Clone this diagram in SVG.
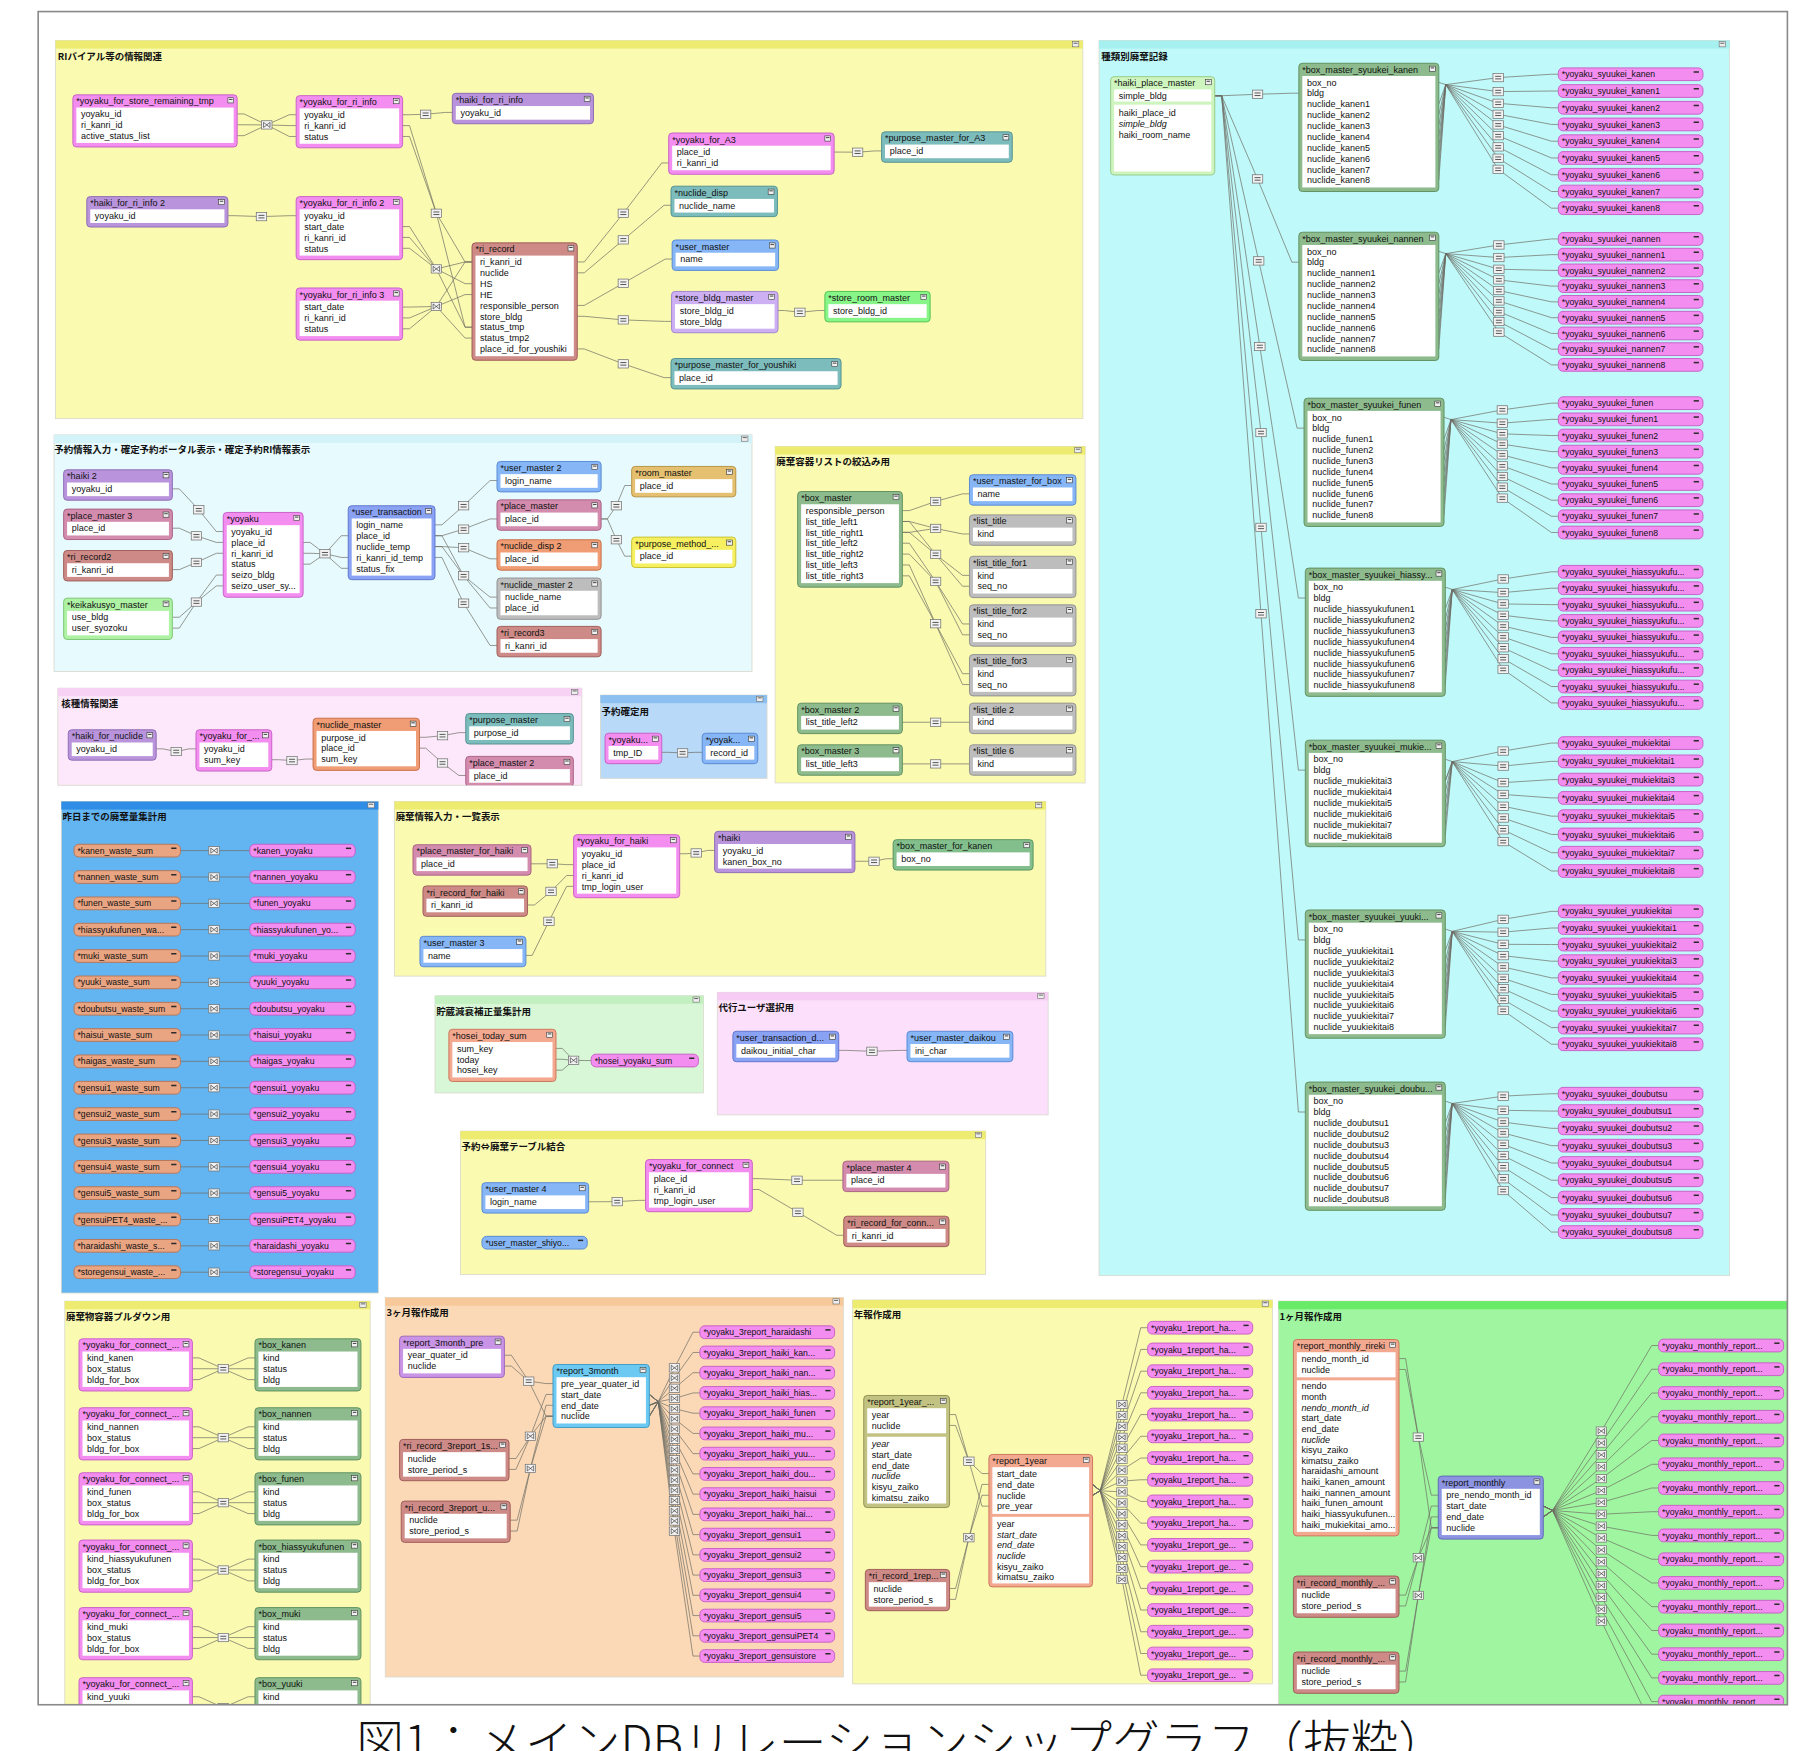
<svg xmlns="http://www.w3.org/2000/svg" width="1814" height="1751" viewBox="0 0 1814 1751">
<style>
text{font-family:"Liberation Sans","Noto Sans CJK JP",sans-serif;fill:#111}
.t{font-family:"Noto Sans CJK JP",sans-serif;font-size:8.2px;font-weight:700;fill:#111}
.h,.f{font-size:7.8px}
.p .h{font-size:7.5px}
.i{font-style:italic}
.w{fill:#fff}
.b{stroke-width:.8}
.sr{stroke:#d8d8cc;stroke-width:.7}
.cl{fill:none;stroke:#6c6c64;stroke-width:.6}
.pk .b{fill:#f38ef0;stroke:#c65cc4}
.pu .b{fill:#b994dc;stroke:#8a68b2}
.tl .b{fill:#7dbcbc;stroke:#4f8e8e}
.bl .b{fill:#86b6f6;stroke:#5585d2}
.lv .b{fill:#cdb0f4;stroke:#9d80cc}
.gr .b{fill:#88f588;stroke:#4cc04c}
.rb .b{fill:#cd8a86;stroke:#9c5854}
.bg .b{fill:#8dbb8d;stroke:#5b8d5b}
.ro .b{fill:#d48cae;stroke:#a65c80}
.or .b{fill:#f09c74;stroke:#c66a40}
.gy .b{fill:#bdbdbd;stroke:#8e8e8e}
.tn .b{fill:#e4c070;stroke:#b48f3c}
.yl .b{fill:#f6f060;stroke:#c6bf2c}
.lg .b{fill:#aef2a4;stroke:#78c46e}
.hp .b{fill:#cdf5bd;stroke:#94c886}
.sa .b{fill:#e9a482;stroke:#b97352}
.pw .b{fill:#8aa2f4;stroke:#5a72cc}
.pm .b{fill:#8c94e2;stroke:#5c64b4}
.sk .b{fill:#6cc9f2;stroke:#3a99c4}
.vi .b{fill:#c993e6;stroke:#9a64b8}
.ol .b{fill:#c2c282;stroke:#8e8e50}
.sl .b{fill:#f3a890;stroke:#cc7358}
.bk .b{fill:#82bf8c;stroke:#559060}
</style>
<defs>
<g id="ic"><rect width="5" height="4.5" fill="#f0f0f0" stroke="#333" stroke-width=".5"/><path d="M1,1.5h3" stroke="#333" stroke-width=".8"/></g>
<path id="mi" d="M0,0h4.5" stroke="#2a2a2a" stroke-width="1.3"/>
<g id="si"><rect width="5.5" height="4.5" fill="#eee" stroke="#666" stroke-width=".5"/><path d="M1,1.4h3.5" stroke="#444" stroke-width=".7"/></g>
<g id="eq"><rect x="-4.5" y="-3.6" width="9" height="7.2" fill="#f2f2f2" stroke="#6c6c6c" stroke-width=".6"/><path d="M-2.6,-1.1h5.2M-2.6,1.1h5.2" stroke="#333" stroke-width=".7"/></g>
<g id="bt"><rect x="-4.5" y="-3.6" width="9" height="7.2" fill="#f2f2f2" stroke="#6c6c6c" stroke-width=".6"/><path d="M-2.8,-2.2v4.4M2.8,-2.2v4.4M-2.8,-2.2L2.8,2.2M-2.8,2.2L2.8,-2.2" stroke="#333" stroke-width=".55" fill="none"/></g>
<clipPath id="fr"><rect x="33" y="10" width="1512" height="1464"/></clipPath>
<clipPath id="c5"><rect x="50" y="595" width="453" height="84"/></clipPath>
</defs>
<rect width="1814" height="1751" fill="#fff"/>
<g transform="scale(1.15689 1.15654)">
<g clip-path="url(#fr)">
<g id="sections">
<g id="sec-1"><rect class="sr" x="48" y="35" width="888" height="327" fill="#fafab0"/><rect x="48" y="35" width="888" height="7" fill="#eeec70"/><use href="#si" x="927" y="36"/><text class="t" x="50" y="52">RIバイアル等の情報関連</text></g>
<g id="sec-2"><rect class="sr" x="950" y="35" width="545" height="1068" fill="#c0f9f9"/><rect x="950" y="35" width="545" height="7" fill="#a6f0f0"/><use href="#si" x="1486" y="36"/><text class="t" x="952" y="52">種類別廃棄記録</text></g>
<g id="sec-3"><rect class="sr" x="46.7" y="376" width="603.3" height="204.5" fill="#e7fafd"/><rect x="46.7" y="376" width="603.3" height="7" fill="#d4f3f8"/><use href="#si" x="641" y="377"/><text class="t" x="47" y="392">予約情報入力・確定予約ポータル表示・確定予約RI情報表示</text></g>
<g id="sec-4"><rect class="sr" x="670" y="386" width="268" height="291" fill="#fafab0"/><rect x="670" y="386" width="268" height="7" fill="#eeec70"/><use href="#si" x="929" y="387"/><text class="t" x="671" y="402">廃棄容器リストの絞込み用</text></g>
<g id="sec-5"><rect class="sr" x="50" y="595" width="453" height="84" fill="#fde8fb"/><rect x="50" y="595" width="453" height="7" fill="#f8d2f4"/><use href="#si" x="494" y="596"/><text class="t" x="53" y="611">核種情報関連</text></g>
<g id="sec-6"><rect class="sr" x="519" y="601" width="144" height="72" fill="#b8d9f7"/><rect x="519" y="601" width="144" height="7" fill="#8cc0f0"/><use href="#si" x="654" y="602"/><text class="t" x="520" y="618">予約確定用</text></g>
<g id="sec-7"><rect class="sr" x="53" y="693" width="274" height="425" fill="#63b5f1"/><rect x="53" y="693" width="274" height="7" fill="#2f8de6"/><use href="#si" x="318" y="694"/><text class="t" x="54" y="709">昨日までの廃棄量集計用</text></g>
<g id="sec-8"><rect class="sr" x="341" y="693" width="563" height="151" fill="#fafab0"/><rect x="341" y="693" width="563" height="7" fill="#eeec70"/><use href="#si" x="895" y="694"/><text class="t" x="342" y="709">廃棄情報入力・一覧表示</text></g>
<g id="sec-9"><rect class="sr" x="376" y="861" width="232" height="84" fill="#d8f7d6"/><rect x="376" y="861" width="232" height="7" fill="#c2f0c0"/><use href="#si" x="599" y="862"/><text class="t" x="377" y="878">貯蔵減衰補正量集計用</text></g>
<g id="sec-10"><rect class="sr" x="620" y="858" width="286" height="106" fill="#fce0fb"/><rect x="620" y="858" width="286" height="7" fill="#f6ccf4"/><use href="#si" x="897" y="859"/><text class="t" x="621" y="874">代行ユーザ選択用</text></g>
<g id="sec-11"><rect class="sr" x="398" y="978" width="454" height="124" fill="#fafab0"/><rect x="398" y="978" width="454" height="7" fill="#eeec70"/><use href="#si" x="843" y="979"/><text class="t" x="399" y="994">予約⇔廃棄テーブル結合</text></g>
<g id="sec-12"><rect class="sr" x="56" y="1125" width="264" height="355" fill="#fafab0"/><rect x="56" y="1125" width="264" height="7" fill="#eeec70"/><use href="#si" x="311" y="1126"/><text class="t" x="57" y="1141">廃棄物容器プルダウン用</text></g>
<g id="sec-13"><rect class="sr" x="333" y="1122" width="396" height="328" fill="#fbd9b6"/><rect x="333" y="1122" width="396" height="7" fill="#f6c89a"/><use href="#si" x="720" y="1123"/><text class="t" x="334" y="1138">3ヶ月報作成用</text></g>
<g id="sec-14"><rect class="sr" x="737" y="1124" width="363" height="332" fill="#fafab0"/><rect x="737" y="1124" width="363" height="7" fill="#eeec70"/><use href="#si" x="1091" y="1125"/><text class="t" x="738" y="1140">年報作成用</text></g>
<g id="sec-15"><rect class="sr" x="1105" y="1125" width="445" height="355" fill="#a0f6a0"/><rect x="1105" y="1125" width="445" height="7" fill="#68ec68"/><text class="t" x="1106" y="1141">1ヶ月報作成用</text></g>
</g>

<g id="connectors">
<path class="cl" d="M205,98.5H211L230.6,108L250,99.2H256M205,107.9H211L230.6,108L250,108.6H256M205,117.3H211L230.6,108L250,118H256M348,99.2H354L367.9,98.8L385,97.2H391M197,186.5H203L226,187.3L250,186.5H256M348,108.6H354L377.2,184.4L402,226.5H408M348,118H354L377.2,184.4L402,282.9H408M348,195.9H354L377.2,232.5L402,226.5H408M348,205.3H354L377.2,232.5L402,245.3H408M348,214.7H354L377.2,232.5L402,282.9H408M348,265.5H354L377.2,265L402,254.7H408M348,274.9H354L377.2,265L402,226.5H408M348,284.3H354L377.2,265L402,292.3H408M499,226.5H505L538.8,184.4L572,140.9H578M499,235.9H505L538.8,207.4L574,177.5H580M499,264.1H505L538.8,244.9L575,224H581M499,273.5H505L538.8,276.6L574.5,277.9H580.5M499,301.7H505L538.8,314.6L574,326.5H580M721,131.5H727L741.3,131.6L756,130.5H762M672.5,268.5H678L691.4,270L707,268.5H713"/>
<path class="cl" d="M1050,82.8H1056L1087,81.5L1116.7,80.6H1122.7M1050,82.8H1056L1087,154.7L1116.7,226.7H1122.7M1050,82.8H1056L1088,225.6L1121.2,370.2H1127.2M1050,82.8H1056L1089,299.6L1122.3,517.1H1128.3M1050,82.8H1056L1090,374L1122.3,665.9H1128.3M1050,82.8H1056L1090,456L1122.3,812.7H1128.3M1050,82.8H1056L1090,530.7L1122.3,961.5H1128.3"/>
<path class="cl" d="M1243.7,71.2L1249.7,73.2L1295,67.1L1341,64.2H1347M1243.7,90L1249.7,73.2L1295,79.2L1341,78.7H1347M1243.7,99.4L1249.7,73.2L1295,89.3L1341,93.2H1347M1243.7,108.8L1249.7,73.2L1295,98.8L1341,107.6H1347M1243.7,118.2L1249.7,73.2L1295,108L1341,122.1H1347M1243.7,127.6L1249.7,73.2L1295,117.3L1341,136.6H1347M1243.7,137L1249.7,73.2L1295,127L1341,151.1H1347M1243.7,146.4L1249.7,73.2L1295,136.8L1341,165.6H1347M1243.7,155.8L1249.7,73.2L1295,146.4L1341,180H1347"/>
<path class="cl" d="M1243.7,217.3L1249.7,219.3L1295.6,211.8L1341,206.6H1347M1243.7,236.1L1249.7,219.3L1295.6,222.7L1341,220.2H1347M1243.7,245.5L1249.7,219.3L1295.6,232.8L1341,233.8H1347M1243.7,254.9L1249.7,219.3L1295.6,242L1341,247.4H1347M1243.7,264.3L1249.7,219.3L1295.6,251.2L1341,261H1347M1243.7,273.7L1249.7,219.3L1295.6,260.2L1341,274.7H1347M1243.7,283.1L1249.7,219.3L1295.6,269.4L1341,288.3H1347M1243.7,292.5L1249.7,219.3L1295.6,278L1341,301.9H1347M1243.7,301.9L1249.7,219.3L1295.6,287.2L1341,315.5H1347"/>
<path class="cl" d="M1248.2,360.8L1254.2,362.8L1298.6,354.4L1341,348.6H1347M1248.2,379.6L1254.2,362.8L1298.6,365.9L1341,362.6H1347M1248.2,389L1254.2,362.8L1298.6,375.1L1341,376.6H1347M1248.2,398.4L1254.2,362.8L1298.6,384L1341,390.5H1347M1248.2,407.8L1254.2,362.8L1298.6,393.3L1341,404.5H1347M1248.2,417.2L1254.2,362.8L1298.6,402.8L1341,418.5H1347M1248.2,426.6L1254.2,362.8L1298.6,412L1341,432.5H1347M1248.2,436L1254.2,362.8L1298.6,421.2L1341,446.4H1347M1248.2,445.4L1254.2,362.8L1298.6,430.7L1341,460.4H1347"/>
<path class="cl" d="M1249.3,507.7L1255.3,509.7L1299.3,500.6L1341,494.4H1347M1249.3,526.5L1255.3,509.7L1299.3,512.4L1341,508.6H1347M1249.3,535.9L1255.3,509.7L1299.3,522.2L1341,522.8H1347M1249.3,545.3L1255.3,509.7L1299.3,532L1341,536.9H1347M1249.3,554.7L1255.3,509.7L1299.3,541.3L1341,551.1H1347M1249.3,564.1L1255.3,509.7L1299.3,550.7L1341,565.3H1347M1249.3,573.5L1255.3,509.7L1299.3,560.1L1341,579.5H1347M1249.3,582.9L1255.3,509.7L1299.3,569.5L1341,593.6H1347M1249.3,592.3L1255.3,509.7L1299.3,578.8L1341,607.8H1347"/>
<path class="cl" d="M1249.3,656.5L1255.3,658.5L1299.3,649.4L1341,642.5H1347M1249.3,675.3L1255.3,658.5L1299.3,662.4L1341,658.3H1347M1249.3,675.3L1255.3,658.5L1299.3,676.7L1341,674.1H1347M1249.3,684.7L1255.3,658.5L1299.3,686.9L1341,689.9H1347M1249.3,694.1L1255.3,658.5L1299.3,697.1L1341,705.7H1347M1249.3,703.5L1255.3,658.5L1299.3,707.3L1341,721.5H1347M1249.3,712.9L1255.3,658.5L1299.3,717.5L1341,737.3H1347M1249.3,722.3L1255.3,658.5L1299.3,727.7L1341,753.1H1347"/>
<path class="cl" d="M1249.3,803.3L1255.3,805.3L1299.3,794.9L1341,788H1347M1249.3,822.1L1255.3,805.3L1299.3,806L1341,802.4H1347M1249.3,831.5L1255.3,805.3L1299.3,816.5L1341,816.7H1347M1249.3,840.9L1255.3,805.3L1299.3,826.3L1341,831.1H1347M1249.3,850.3L1255.3,805.3L1299.3,836.1L1341,845.5H1347M1249.3,859.7L1255.3,805.3L1299.3,845.9L1341,859.8H1347M1249.3,869.1L1255.3,805.3L1299.3,854.9L1341,874.2H1347M1249.3,878.5L1255.3,805.3L1299.3,864.2L1341,888.5H1347M1249.3,887.9L1255.3,805.3L1299.3,873.6L1341,902.9H1347"/>
<path class="cl" d="M1249.3,952.1L1255.3,954.1L1299.3,947.8L1341,945.7H1347M1249.3,970.9L1255.3,954.1L1299.3,960L1341,960.7H1347M1249.3,980.3L1255.3,954.1L1299.3,970.2L1341,975.6H1347M1249.3,989.7L1255.3,954.1L1299.3,979.6L1341,990.6H1347M1249.3,999.1L1255.3,954.1L1299.3,989.4L1341,1005.6H1347M1249.3,1008.5L1255.3,954.1L1299.3,999.1L1341,1020.5H1347M1249.3,1017.9L1255.3,954.1L1299.3,1008.9L1341,1035.5H1347M1249.3,1027.3L1255.3,954.1L1299.3,1019.2L1341,1050.5H1347M1249.3,1036.7L1255.3,954.1L1299.3,1029.4L1341,1065.3H1347"/>
<path class="cl" d="M149,422.7H155L171.8,440.8L187,459.6H193M149,456.7H155L169.8,463.3L187,469H193M149,492.5H155L169.8,486.3L187,478.4H193M149,533.7H155L169.8,520.6L187,497.2H193M149,543.1H155L169.8,520.6L187,506.6H193M262,469H268L280.9,478.8L295,463.2H301M262,478.4H268L280.9,478.8L295,482H301M262,487.8H268L280.9,478.8L295,491.4H301M376,453.8H382L400.7,437.3L423.6,415.5H429.6M376,463.2H382L400.7,457.5L423.6,448.7H429.6M376,472.6H382L400.7,473.6L423.6,483.2H429.6M376,463.2H382L400.7,497.8L423.6,516.3H429.6M376,472.6H382L400.7,497.8L423.6,525.7H429.6M376,482H382L400.7,521.5L423.6,558.1H429.6M519.6,448.7H525L532.8,437.3L540,419.8H546M519.6,448.7H525L532.8,466.7L540,480.9H546"/>
<path class="cl" d="M780,441.5H786L808.7,433.6L832,427H838M780,450.9H786L808.7,456.9L832,461.7H838M780,460.3H786L808.7,456.9M780,450.9H786L808.7,479.3L832,497.5H838M780,460.3H786L808.7,479.3L832,506.9H838M780,469.7H786L808.7,502.7L832,539.5H838M780,479.1H786L808.7,502.7L832,548.9H838M780,488.5H786L808.7,539.3L832,582.5H838M780,497.9H786L808.7,539.3L832,591.9H838M780,624.5H838M780,660.5H838"/>
<path class="cl" d="M135,647.5H141L152.3,649.8L163.4,647.5H169.4M234.9,656.9H241L252.4,657.6L264.6,656.3H270.6M362.6,637.5H368L382.5,636.1L396.6,633.5H402.6M362.6,646.9H368L382.5,659.7L396.6,670.5H402.6M572,650.5H578L590,651L601,650.5H607"/>
<path class="cl" d="M156,735.5H216M156,758.3H216M156,781.1H216M156,803.8H216M156,826.6H216M156,849.4H216M156,872.2H216M156,894.9H216M156,917.7H216M156,940.5H216M156,963.3H216M156,986.1H216M156,1008.9H216M156,1031.6H216M156,1054.4H216M156,1077.2H216M156,1100H216"/>
<path class="cl" d="M459,746.9H465L477.4,746.8L489.8,747.6H495.8M456,782.5H462L476.3,770.7L489.8,757H495.8M454.6,826.1H460L474.5,796.6L489.8,766.4H495.8M587.5,738.2H593L601.8,737.5L611.7,735.3H617.7M739,744.7H745L755.5,744.7L766,742.5H772M480.6,906.5H486L495.8,916.8L505,917H511M480.6,915.9H486L495.8,916.8M480.6,925.3H486L495.8,916.8M725,908.2H731L753.7,909L778,908.2H784M508.8,1039.1H515L533.5,1039L552,1037.9H558M650.3,1019.1H656L688.9,1020.5L722.6,1020.5H728.6M650.3,1028.5H656L689.7,1048.2L723.3,1068.1H729.3"/>
<path class="cl" d="M166.3,1174.1H172L193,1183.5L214.4,1174.1H220.4M166.3,1183.5H220.4M166.3,1192.9H172L193,1183.5L214.4,1192.9H220.4M166.3,1233.7H172L193,1243.1L214.4,1233.7H220.4M166.3,1243.1H220.4M166.3,1252.5H172L193,1243.1L214.4,1252.5H220.4M166.3,1289.9H172L193,1299.3L214.4,1289.9H220.4M166.3,1299.3H220.4M166.3,1308.7H172L193,1299.3L214.4,1308.7H220.4M166.3,1348.1H172L193,1357.5L214.4,1348.1H220.4M166.3,1357.5H220.4M166.3,1366.9H172L193,1357.5L214.4,1366.9H220.4M166.3,1406.5H172L193,1415.9L214.4,1406.5H220.4M166.3,1415.9H220.4M166.3,1425.3H172L193,1415.9L214.4,1425.3H220.4M166.3,1467.1H172L193,1476.5L214.4,1467.1H220.4M166.3,1476.5H220.4"/>
<path class="cl" d="M436,1171.8H442L457,1194.2L472,1196.3H478M436,1181.2H442L457,1194.2L472,1224.5H478M440,1261.1H446L458.5,1241.8L472,1205.7H478M440,1270.5H446L458.5,1241.8L472,1224.5H478M441,1314.4H447L458.5,1269.7L472,1215.1H478M441,1323.8H447L458.5,1269.7L472,1224.5H478"/>
<path class="cl" d="M561.3,1205.7L569,1212L583,1182.7L599,1151.9H605M561.3,1205.7L569,1212L583,1191.5L599,1169.4H605M561.3,1205.7L569,1212L583,1200.4L599,1186.9H605M561.3,1205.7L569,1212L583,1209.2L599,1204.4H605M561.3,1205.7L569,1212L583,1218L599,1221.9H605M561.3,1205.7L569,1212L583,1226.8L599,1239.4H605M561.3,1215.1L569,1212L583,1235.7L599,1256.9H605M561.3,1215.1L569,1212L583,1244.5L599,1274.4H605M561.3,1215.1L569,1212L583,1253.3L599,1291.9H605M561.3,1215.1L569,1212L583,1262.1L599,1309.4H605M561.3,1215.1L569,1212L583,1271L599,1326.9H605M561.3,1215.1L569,1212L583,1279.8L599,1344.4H605M561.3,1224.5L569,1212L583,1288.6L599,1361.9H605M561.3,1224.5L569,1212L583,1297.4L599,1379.4H605M561.3,1224.5L569,1212L583,1306.3L599,1396.9H605M561.3,1224.5L569,1212L583,1315.1L599,1414.4H605M561.3,1224.5L569,1212L583,1323.9L599,1431.9H605"/>
<path class="cl" d="M820.8,1223.1H826L837.5,1263.4L848.8,1274.1H854.8M820.8,1232.5H826L837.5,1263.4L848.8,1302.3H854.8M820.8,1373.5H826L837.5,1329.6L848.8,1283.5H854.8M820.8,1382.9H826L837.5,1329.6L848.8,1292.9H854.8"/>
<path class="cl" d="M944.4,1283.5L951,1289L969.8,1214.4L986,1148H992M944.4,1283.5L951,1289L969.8,1223.9L986,1166.8H992M944.4,1283.5L951,1289L969.8,1233.3L986,1185.6H992M944.4,1283.5L951,1289L969.8,1242.8L986,1204.3H992M944.4,1283.5L951,1289L969.8,1252.2L986,1223.1H992M944.4,1283.5L951,1289L969.8,1261.7L986,1241.9H992M944.4,1283.5L951,1289L969.8,1271.1L986,1260.7H992M944.4,1283.5L951,1289L969.8,1280.6L986,1279.5H992M944.4,1283.5L951,1289L969.8,1290L986,1298.2H992M944.4,1292.9L951,1289L969.8,1299.5L986,1317H992M944.4,1292.9L951,1289L969.8,1308.9L986,1335.8H992M944.4,1292.9L951,1289L969.8,1318.4L986,1354.6H992M944.4,1292.9L951,1289L969.8,1327.8L986,1373.4H992M944.4,1292.9L951,1289L969.8,1337.3L986,1392.1H992M944.4,1292.9L951,1289L969.8,1346.7L986,1410.9H992M944.4,1292.9L951,1289L969.8,1356.2L986,1429.7H992M944.4,1292.9L951,1289L969.8,1365.6L986,1448.5H992"/>
<path class="cl" d="M1209.3,1174.7H1215L1226,1242.6L1237.2,1292.8H1243.2M1209.3,1184.1H1215L1226,1242.6L1237.2,1321H1243.2M1209.3,1379.2H1215L1226,1346.9L1237.2,1302.2H1243.2M1209.3,1388.6H1215L1226,1346.9L1237.2,1321H1243.2M1209.3,1444.9H1215L1226,1379.5L1237.2,1311.6H1243.2M1209.3,1454.3H1215L1226,1379.5L1237.2,1321H1243.2"/>
<path class="cl" d="M1334,1302.2L1342,1306L1384.2,1237.4L1427.7,1163.4H1433.7M1334,1302.2L1342,1306L1384.2,1247.7L1427.7,1183.9H1433.7M1334,1302.2L1342,1306L1384.2,1257.9L1427.7,1204.5H1433.7M1334,1302.2L1342,1306L1384.2,1268.2L1427.7,1225H1433.7M1334,1302.2L1342,1306L1384.2,1278.5L1427.7,1245.5H1433.7M1334,1302.2L1342,1306L1384.2,1288.8L1427.7,1266.1H1433.7M1334,1302.2L1342,1306L1384.2,1299L1427.7,1286.6H1433.7M1334,1302.2L1342,1306L1384.2,1309.3L1427.7,1307.1H1433.7M1334,1311.6L1342,1306L1384.2,1319.6L1427.7,1327.6H1433.7M1334,1311.6L1342,1306L1384.2,1329.8L1427.7,1348.2H1433.7M1334,1311.6L1342,1306L1384.2,1340.1L1427.7,1368.7H1433.7M1334,1311.6L1342,1306L1384.2,1350.4L1427.7,1389.2H1433.7M1334,1311.6L1342,1306L1384.2,1360.6L1427.7,1409.8H1433.7M1334,1311.6L1342,1306L1384.2,1370.9L1427.7,1430.3H1433.7M1334,1311.6L1342,1306L1384.2,1381.2L1427.7,1450.8H1433.7M1334,1311.6L1342,1306L1384.2,1391.5L1427.7,1471.3H1433.7M1334,1311.6L1342,1306L1384.2,1401.7L1427.7,1491.9H1433.7"/>
<g id="rel-icons">
<use href="#bt" x="230.6" y="108"/><use href="#eq" x="367.9" y="98.8"/><use href="#eq" x="226" y="187.3"/><use href="#eq" x="377.2" y="184.4"/><use href="#bt" x="377.2" y="232.5"/><use href="#bt" x="377.2" y="265"/><use href="#eq" x="538.8" y="184.4"/><use href="#eq" x="538.8" y="207.4"/><use href="#eq" x="538.8" y="244.9"/><use href="#eq" x="538.8" y="276.6"/><use href="#eq" x="538.8" y="314.6"/><use href="#eq" x="741.3" y="131.6"/><use href="#eq" x="691.4" y="270"/>
<use href="#eq" x="1087" y="81.5"/><use href="#eq" x="1087" y="154.7"/><use href="#eq" x="1088" y="225.6"/><use href="#eq" x="1089" y="299.6"/><use href="#eq" x="1090" y="374"/><use href="#eq" x="1090" y="456"/><use href="#eq" x="1090" y="530.7"/>
<use href="#eq" x="1295" y="67.1"/><use href="#eq" x="1295" y="79.2"/><use href="#eq" x="1295" y="89.3"/><use href="#eq" x="1295" y="98.8"/><use href="#eq" x="1295" y="108"/><use href="#eq" x="1295" y="117.3"/><use href="#eq" x="1295" y="127"/><use href="#eq" x="1295" y="136.8"/><use href="#eq" x="1295" y="146.4"/>
<use href="#eq" x="1295.6" y="211.8"/><use href="#eq" x="1295.6" y="222.7"/><use href="#eq" x="1295.6" y="232.8"/><use href="#eq" x="1295.6" y="242"/><use href="#eq" x="1295.6" y="251.2"/><use href="#eq" x="1295.6" y="260.2"/><use href="#eq" x="1295.6" y="269.4"/><use href="#eq" x="1295.6" y="278"/><use href="#eq" x="1295.6" y="287.2"/>
<use href="#eq" x="1298.6" y="354.4"/><use href="#eq" x="1298.6" y="365.9"/><use href="#eq" x="1298.6" y="375.1"/><use href="#eq" x="1298.6" y="384"/><use href="#eq" x="1298.6" y="393.3"/><use href="#eq" x="1298.6" y="402.8"/><use href="#eq" x="1298.6" y="412"/><use href="#eq" x="1298.6" y="421.2"/><use href="#eq" x="1298.6" y="430.7"/>
<use href="#eq" x="1299.3" y="500.6"/><use href="#eq" x="1299.3" y="512.4"/><use href="#eq" x="1299.3" y="522.2"/><use href="#eq" x="1299.3" y="532"/><use href="#eq" x="1299.3" y="541.3"/><use href="#eq" x="1299.3" y="550.7"/><use href="#eq" x="1299.3" y="560.1"/><use href="#eq" x="1299.3" y="569.5"/><use href="#eq" x="1299.3" y="578.8"/>
<use href="#eq" x="1299.3" y="649.4"/><use href="#eq" x="1299.3" y="662.4"/><use href="#eq" x="1299.3" y="676.7"/><use href="#eq" x="1299.3" y="686.9"/><use href="#eq" x="1299.3" y="697.1"/><use href="#eq" x="1299.3" y="707.3"/><use href="#eq" x="1299.3" y="717.5"/><use href="#eq" x="1299.3" y="727.7"/>
<use href="#eq" x="1299.3" y="794.9"/><use href="#eq" x="1299.3" y="806"/><use href="#eq" x="1299.3" y="816.5"/><use href="#eq" x="1299.3" y="826.3"/><use href="#eq" x="1299.3" y="836.1"/><use href="#eq" x="1299.3" y="845.9"/><use href="#eq" x="1299.3" y="854.9"/><use href="#eq" x="1299.3" y="864.2"/><use href="#eq" x="1299.3" y="873.6"/>
<use href="#eq" x="1299.3" y="947.8"/><use href="#eq" x="1299.3" y="960"/><use href="#eq" x="1299.3" y="970.2"/><use href="#eq" x="1299.3" y="979.6"/><use href="#eq" x="1299.3" y="989.4"/><use href="#eq" x="1299.3" y="999.1"/><use href="#eq" x="1299.3" y="1008.9"/><use href="#eq" x="1299.3" y="1019.2"/><use href="#eq" x="1299.3" y="1029.4"/>
<use href="#eq" x="171.8" y="440.8"/><use href="#eq" x="169.8" y="463.3"/><use href="#eq" x="169.8" y="486.3"/><use href="#eq" x="169.8" y="520.6"/><use href="#eq" x="280.9" y="478.8"/><use href="#eq" x="400.7" y="437.3"/><use href="#eq" x="400.7" y="457.5"/><use href="#eq" x="400.7" y="473.6"/><use href="#eq" x="400.7" y="497.8"/><use href="#eq" x="400.7" y="521.5"/><use href="#eq" x="532.8" y="437.3"/><use href="#eq" x="532.8" y="466.7"/>
<use href="#eq" x="808.7" y="433.6"/><use href="#eq" x="808.7" y="456.9"/><use href="#eq" x="808.7" y="479.3"/><use href="#eq" x="808.7" y="502.7"/><use href="#eq" x="808.7" y="539.3"/><use href="#eq" x="808.7" y="624.5"/><use href="#eq" x="808.7" y="660.5"/>
<use href="#eq" x="152.3" y="649.8"/><use href="#eq" x="252.4" y="657.6"/><use href="#eq" x="382.5" y="636.1"/><use href="#eq" x="382.5" y="659.7"/><use href="#eq" x="590" y="651"/>
<use href="#bt" x="185" y="735.5"/><use href="#bt" x="185" y="758.3"/><use href="#bt" x="185" y="781.1"/><use href="#bt" x="185" y="803.8"/><use href="#bt" x="185" y="826.6"/><use href="#bt" x="185" y="849.4"/><use href="#bt" x="185" y="872.2"/><use href="#bt" x="185" y="894.9"/><use href="#bt" x="185" y="917.7"/><use href="#bt" x="185" y="940.5"/><use href="#bt" x="185" y="963.3"/><use href="#bt" x="185" y="986.1"/><use href="#bt" x="185" y="1008.9"/><use href="#bt" x="185" y="1031.6"/><use href="#bt" x="185" y="1054.4"/><use href="#bt" x="185" y="1077.2"/><use href="#bt" x="185" y="1100"/>
<use href="#eq" x="477.4" y="746.8"/><use href="#eq" x="476.3" y="770.7"/><use href="#eq" x="474.5" y="796.6"/><use href="#eq" x="601.8" y="737.5"/><use href="#eq" x="755.5" y="744.7"/><use href="#bt" x="495.8" y="916.8"/><use href="#eq" x="753.7" y="909"/><use href="#eq" x="533.5" y="1039"/><use href="#eq" x="688.9" y="1020.5"/><use href="#eq" x="689.7" y="1048.2"/>
<use href="#eq" x="193" y="1183.5"/><use href="#eq" x="193" y="1243.1"/><use href="#eq" x="193" y="1299.3"/><use href="#eq" x="193" y="1357.5"/><use href="#eq" x="193" y="1415.9"/><use href="#eq" x="193" y="1476.5"/>
<use href="#eq" x="457" y="1194.2"/><use href="#bt" x="458.5" y="1241.8"/><use href="#bt" x="458.5" y="1269.7"/>
<use href="#bt" x="583" y="1182.7"/><use href="#bt" x="583" y="1191.5"/><use href="#bt" x="583" y="1200.4"/><use href="#bt" x="583" y="1209.2"/><use href="#bt" x="583" y="1218"/><use href="#bt" x="583" y="1226.8"/><use href="#bt" x="583" y="1235.7"/><use href="#bt" x="583" y="1244.5"/><use href="#bt" x="583" y="1253.3"/><use href="#bt" x="583" y="1262.1"/><use href="#bt" x="583" y="1271"/><use href="#bt" x="583" y="1279.8"/><use href="#bt" x="583" y="1288.6"/><use href="#bt" x="583" y="1297.4"/><use href="#bt" x="583" y="1306.3"/><use href="#bt" x="583" y="1315.1"/><use href="#bt" x="583" y="1323.9"/>
<use href="#eq" x="837.5" y="1263.4"/><use href="#bt" x="837.5" y="1329.6"/>
<use href="#bt" x="969.8" y="1214.4"/><use href="#bt" x="969.8" y="1223.9"/><use href="#bt" x="969.8" y="1233.3"/><use href="#bt" x="969.8" y="1242.8"/><use href="#bt" x="969.8" y="1252.2"/><use href="#bt" x="969.8" y="1261.7"/><use href="#bt" x="969.8" y="1271.1"/><use href="#bt" x="969.8" y="1280.6"/><use href="#bt" x="969.8" y="1290"/><use href="#bt" x="969.8" y="1299.5"/><use href="#bt" x="969.8" y="1308.9"/><use href="#bt" x="969.8" y="1318.4"/><use href="#bt" x="969.8" y="1327.8"/><use href="#bt" x="969.8" y="1337.3"/><use href="#bt" x="969.8" y="1346.7"/><use href="#bt" x="969.8" y="1356.2"/><use href="#bt" x="969.8" y="1365.6"/>
<use href="#eq" x="1226" y="1242.6"/><use href="#bt" x="1226" y="1346.9"/><use href="#bt" x="1226" y="1379.5"/>
<use href="#bt" x="1384.2" y="1237.4"/><use href="#bt" x="1384.2" y="1247.7"/><use href="#bt" x="1384.2" y="1257.9"/><use href="#bt" x="1384.2" y="1268.2"/><use href="#bt" x="1384.2" y="1278.5"/><use href="#bt" x="1384.2" y="1288.8"/><use href="#bt" x="1384.2" y="1299"/><use href="#bt" x="1384.2" y="1309.3"/><use href="#bt" x="1384.2" y="1319.6"/><use href="#bt" x="1384.2" y="1329.8"/><use href="#bt" x="1384.2" y="1340.1"/><use href="#bt" x="1384.2" y="1350.4"/><use href="#bt" x="1384.2" y="1360.6"/><use href="#bt" x="1384.2" y="1370.9"/><use href="#bt" x="1384.2" y="1381.2"/><use href="#bt" x="1384.2" y="1391.5"/><use href="#bt" x="1384.2" y="1401.7"/>
</g>
</g>

<g id="nodes">
<g id="n-yoyaku_for_store_remaining_tmp" class="pk"><rect class="b" x="63" y="82" width="142" height="45.1" rx="3"/><rect class="w" x="66" y="93" width="136" height="30.6"/><text class="h" x="66" y="90.3">*yoyaku_for_store_remaining_tmp</text><use href="#ic" x="197" y="84.5"/><text class="f" x="70" y="101.3"><tspan>yoyaku_id</tspan><tspan x="70" dy="9.4">ri_kanri_id</tspan><tspan x="70" dy="9.4">active_status_list</tspan></text></g>
<g id="n-yoyaku_for_ri_info" class="pk"><rect class="b" x="256" y="82.7" width="92" height="45.1" rx="3"/><rect class="w" x="259" y="93.7" width="86" height="30.6"/><text class="h" x="259" y="91">*yoyaku_for_ri_info</text><use href="#ic" x="340" y="85.2"/><text class="f" x="263" y="102"><tspan>yoyaku_id</tspan><tspan x="263" dy="9.4">ri_kanri_id</tspan><tspan x="263" dy="9.4">status</tspan></text></g>
<g id="n-haiki_for_ri_info" class="pu"><rect class="b" x="391" y="80.7" width="122" height="26.3" rx="3"/><rect class="w" x="394" y="91.7" width="116" height="11.8"/><text class="h" x="394" y="89">*haiki_for_ri_info</text><use href="#ic" x="505" y="83.2"/><text class="f" x="398" y="100">yoyaku_id</text></g>
<g id="n-haiki_for_ri_info_2" class="pu"><rect class="b" x="75" y="170" width="122" height="26.3" rx="3"/><rect class="w" x="78" y="181" width="116" height="11.8"/><text class="h" x="78" y="178.3">*haiki_for_ri_info 2</text><use href="#ic" x="189" y="172.5"/><text class="f" x="82" y="189.3">yoyaku_id</text></g>
<g id="n-yoyaku_for_ri_info_2" class="pk"><rect class="b" x="256" y="170" width="92" height="54.5" rx="3"/><rect class="w" x="259" y="181" width="86" height="40"/><text class="h" x="259" y="178.3">*yoyaku_for_ri_info 2</text><use href="#ic" x="340" y="172.5"/><text class="f" x="263" y="189.3"><tspan>yoyaku_id</tspan><tspan x="263" dy="9.4">start_date</tspan><tspan x="263" dy="9.4">ri_kanri_id</tspan><tspan x="263" dy="9.4">status</tspan></text></g>
<g id="n-yoyaku_for_ri_info_3" class="pk"><rect class="b" x="256" y="249" width="92" height="45.1" rx="3"/><rect class="w" x="259" y="260" width="86" height="30.6"/><text class="h" x="259" y="257.3">*yoyaku_for_ri_info 3</text><use href="#ic" x="340" y="251.5"/><text class="f" x="263" y="268.3"><tspan>start_date</tspan><tspan x="263" dy="9.4">ri_kanri_id</tspan><tspan x="263" dy="9.4">status</tspan></text></g>
<g id="n-ri_record" class="rb"><rect class="b" x="408" y="210" width="91" height="101.5" rx="3"/><rect class="w" x="411" y="221" width="85" height="87"/><text class="h" x="411" y="218.3">*ri_record</text><use href="#ic" x="491" y="212.5"/><text class="f" x="415" y="229.3"><tspan>ri_kanri_id</tspan><tspan x="415" dy="9.4">nuclide</tspan><tspan x="415" dy="9.4">HS</tspan><tspan x="415" dy="9.4">HE</tspan><tspan x="415" dy="9.4">responsible_person</tspan><tspan x="415" dy="9.4">store_bldg</tspan><tspan x="415" dy="9.4">status_tmp</tspan><tspan x="415" dy="9.4">status_tmp2</tspan><tspan x="415" dy="9.4">place_id_for_youshiki</tspan></text></g>
<g id="n-yoyaku_for_A3" class="pk"><rect class="b" x="578" y="115" width="143" height="35.7" rx="3"/><rect class="w" x="581" y="126" width="137" height="21.2"/><text class="h" x="581" y="123.3">*yoyaku_for_A3</text><use href="#ic" x="713" y="117.5"/><text class="f" x="585" y="134.3"><tspan>place_id</tspan><tspan x="585" dy="9.4">ri_kanri_id</tspan></text></g>
<g id="n-purpose_master_for_A3" class="tl"><rect class="b" x="762" y="114" width="113" height="26.3" rx="3"/><rect class="w" x="765" y="125" width="107" height="11.8"/><text class="h" x="765" y="122.3">*purpose_master_for_A3</text><use href="#ic" x="867" y="116.5"/><text class="f" x="769" y="133.3">place_id</text></g>
<g id="n-nuclide_disp" class="tl"><rect class="b" x="580" y="161" width="92" height="26.3" rx="3"/><rect class="w" x="583" y="172" width="86" height="11.8"/><text class="h" x="583" y="169.3">*nuclide_disp</text><use href="#ic" x="664" y="163.5"/><text class="f" x="587" y="180.3">nuclide_name</text></g>
<g id="n-user_master" class="bl"><rect class="b" x="581" y="207.5" width="92" height="26.3" rx="3"/><rect class="w" x="584" y="218.5" width="86" height="11.8"/><text class="h" x="584" y="215.8">*user_master</text><use href="#ic" x="665" y="210"/><text class="f" x="588" y="226.8">name</text></g>
<g id="n-store_bldg_master" class="lv"><rect class="b" x="580.5" y="252" width="92" height="35.7" rx="3"/><rect class="w" x="583.5" y="263" width="86" height="21.2"/><text class="h" x="583.5" y="260.3">*store_bldg_master</text><use href="#ic" x="664.5" y="254.5"/><text class="f" x="587.5" y="271.3"><tspan>store_bldg_id</tspan><tspan x="587.5" dy="9.4">store_bldg</tspan></text></g>
<g id="n-store_room_master" class="gr"><rect class="b" x="713" y="252" width="91" height="26.3" rx="3"/><rect class="w" x="716" y="263" width="85" height="11.8"/><text class="h" x="716" y="260.3">*store_room_master</text><use href="#ic" x="796" y="254.5"/><text class="f" x="720" y="271.3">store_bldg_id</text></g>
<g id="n-purpose_master_for_youshiki" class="tl"><rect class="b" x="580" y="310" width="147" height="26.3" rx="3"/><rect class="w" x="583" y="321" width="141" height="11.8"/><text class="h" x="583" y="318.3">*purpose_master_for_youshiki</text><use href="#ic" x="719" y="312.5"/><text class="f" x="587" y="329.3">place_id</text></g>

<g id="n-haiki_place_master" class="hp"><rect class="b" x="960" y="66.3" width="90" height="85" rx="3"/><rect class="w" x="963" y="77.3" width="84" height="10.5"/><rect class="w" x="963" y="90.5" width="84" height="57.8"/><text class="h" x="963" y="74.6">*haiki_place_master</text><use href="#ic" x="1042" y="68.8"/><text class="f" x="967" y="85.6">simple_bldg</text><text class="f" x="967" y="100.6"><tspan>haiki_place_id</tspan><tspan x="967" dy="9.4" class="i">simple_bldg</tspan><tspan x="967" dy="9.4">haiki_room_name</tspan></text></g>
<g id="n-box_master_syuukei_kanen" class="bg"><rect class="b" x="1122.7" y="54.7" width="121" height="110.9" rx="3"/><rect class="w" x="1125.7" y="65.7" width="115" height="96.4"/><text class="h" x="1125.7" y="63">*box_master_syuukei_kanen</text><use href="#ic" x="1235.7" y="57.2"/><text class="f" x="1129.7" y="74"><tspan>box_no</tspan><tspan x="1129.7" dy="9.4">bldg</tspan><tspan x="1129.7" dy="9.4">nuclide_kanen1</tspan><tspan x="1129.7" dy="9.4">nuclide_kanen2</tspan><tspan x="1129.7" dy="9.4">nuclide_kanen3</tspan><tspan x="1129.7" dy="9.4">nuclide_kanen4</tspan><tspan x="1129.7" dy="9.4">nuclide_kanen5</tspan><tspan x="1129.7" dy="9.4">nuclide_kanen6</tspan><tspan x="1129.7" dy="9.4">nuclide_kanen7</tspan><tspan x="1129.7" dy="9.4">nuclide_kanen8</tspan></text></g>
<g id="n-box_master_syuukei_nannen" class="bg"><rect class="b" x="1122.7" y="200.8" width="121" height="110.9" rx="3"/><rect class="w" x="1125.7" y="211.8" width="115" height="96.4"/><text class="h" x="1125.7" y="209.1">*box_master_syuukei_nannen</text><use href="#ic" x="1235.7" y="203.3"/><text class="f" x="1129.7" y="220.1"><tspan>box_no</tspan><tspan x="1129.7" dy="9.4">bldg</tspan><tspan x="1129.7" dy="9.4">nuclide_nannen1</tspan><tspan x="1129.7" dy="9.4">nuclide_nannen2</tspan><tspan x="1129.7" dy="9.4">nuclide_nannen3</tspan><tspan x="1129.7" dy="9.4">nuclide_nannen4</tspan><tspan x="1129.7" dy="9.4">nuclide_nannen5</tspan><tspan x="1129.7" dy="9.4">nuclide_nannen6</tspan><tspan x="1129.7" dy="9.4">nuclide_nannen7</tspan><tspan x="1129.7" dy="9.4">nuclide_nannen8</tspan></text></g>
<g id="n-box_master_syuukei_funen" class="bg"><rect class="b" x="1127.2" y="344.3" width="121" height="110.9" rx="3"/><rect class="w" x="1130.2" y="355.3" width="115" height="96.4"/><text class="h" x="1130.2" y="352.6">*box_master_syuukei_funen</text><use href="#ic" x="1240.2" y="346.8"/><text class="f" x="1134.2" y="363.6"><tspan>box_no</tspan><tspan x="1134.2" dy="9.4">bldg</tspan><tspan x="1134.2" dy="9.4">nuclide_funen1</tspan><tspan x="1134.2" dy="9.4">nuclide_funen2</tspan><tspan x="1134.2" dy="9.4">nuclide_funen3</tspan><tspan x="1134.2" dy="9.4">nuclide_funen4</tspan><tspan x="1134.2" dy="9.4">nuclide_funen5</tspan><tspan x="1134.2" dy="9.4">nuclide_funen6</tspan><tspan x="1134.2" dy="9.4">nuclide_funen7</tspan><tspan x="1134.2" dy="9.4">nuclide_funen8</tspan></text></g>
<g id="n-box_master_syuukei_hiassy" class="bg"><rect class="b" x="1128.3" y="491.2" width="121" height="110.9" rx="3"/><rect class="w" x="1131.3" y="502.2" width="115" height="96.4"/><text class="h" x="1131.3" y="499.5">*box_master_syuukei_hiassy...</text><use href="#ic" x="1241.3" y="493.7"/><text class="f" x="1135.3" y="510.5"><tspan>box_no</tspan><tspan x="1135.3" dy="9.4">bldg</tspan><tspan x="1135.3" dy="9.4">nuclide_hiassyukufunen1</tspan><tspan x="1135.3" dy="9.4">nuclide_hiassyukufunen2</tspan><tspan x="1135.3" dy="9.4">nuclide_hiassyukufunen3</tspan><tspan x="1135.3" dy="9.4">nuclide_hiassyukufunen4</tspan><tspan x="1135.3" dy="9.4">nuclide_hiassyukufunen5</tspan><tspan x="1135.3" dy="9.4">nuclide_hiassyukufunen6</tspan><tspan x="1135.3" dy="9.4">nuclide_hiassyukufunen7</tspan><tspan x="1135.3" dy="9.4">nuclide_hiassyukufunen8</tspan></text></g>
<g id="n-box_master_syuukei_mukie" class="bg"><rect class="b" x="1128.3" y="640" width="121" height="92.1" rx="3"/><rect class="w" x="1131.3" y="651" width="115" height="77.6"/><text class="h" x="1131.3" y="648.3">*box_master_syuukei_mukie...</text><use href="#ic" x="1241.3" y="642.5"/><text class="f" x="1135.3" y="659.3"><tspan>box_no</tspan><tspan x="1135.3" dy="9.4">bldg</tspan><tspan x="1135.3" dy="9.4">nuclide_mukiekitai3</tspan><tspan x="1135.3" dy="9.4">nuclide_mukiekitai4</tspan><tspan x="1135.3" dy="9.4">nuclide_mukiekitai5</tspan><tspan x="1135.3" dy="9.4">nuclide_mukiekitai6</tspan><tspan x="1135.3" dy="9.4">nuclide_mukiekitai7</tspan><tspan x="1135.3" dy="9.4">nuclide_mukiekitai8</tspan></text></g>
<g id="n-box_master_syuukei_yuuki" class="bg"><rect class="b" x="1128.3" y="786.8" width="121" height="110.9" rx="3"/><rect class="w" x="1131.3" y="797.8" width="115" height="96.4"/><text class="h" x="1131.3" y="795.1">*box_master_syuukei_yuuki...</text><use href="#ic" x="1241.3" y="789.3"/><text class="f" x="1135.3" y="806.1"><tspan>box_no</tspan><tspan x="1135.3" dy="9.4">bldg</tspan><tspan x="1135.3" dy="9.4">nuclide_yuukiekitai1</tspan><tspan x="1135.3" dy="9.4">nuclide_yuukiekitai2</tspan><tspan x="1135.3" dy="9.4">nuclide_yuukiekitai3</tspan><tspan x="1135.3" dy="9.4">nuclide_yuukiekitai4</tspan><tspan x="1135.3" dy="9.4">nuclide_yuukiekitai5</tspan><tspan x="1135.3" dy="9.4">nuclide_yuukiekitai6</tspan><tspan x="1135.3" dy="9.4">nuclide_yuukiekitai7</tspan><tspan x="1135.3" dy="9.4">nuclide_yuukiekitai8</tspan></text></g>
<g id="n-box_master_syuukei_doubu" class="bg"><rect class="b" x="1128.3" y="935.6" width="121" height="110.9" rx="3"/><rect class="w" x="1131.3" y="946.6" width="115" height="96.4"/><text class="h" x="1131.3" y="943.9">*box_master_syuukei_doubu...</text><use href="#ic" x="1241.3" y="938.1"/><text class="f" x="1135.3" y="954.9"><tspan>box_no</tspan><tspan x="1135.3" dy="9.4">bldg</tspan><tspan x="1135.3" dy="9.4">nuclide_doubutsu1</tspan><tspan x="1135.3" dy="9.4">nuclide_doubutsu2</tspan><tspan x="1135.3" dy="9.4">nuclide_doubutsu3</tspan><tspan x="1135.3" dy="9.4">nuclide_doubutsu4</tspan><tspan x="1135.3" dy="9.4">nuclide_doubutsu5</tspan><tspan x="1135.3" dy="9.4">nuclide_doubutsu6</tspan><tspan x="1135.3" dy="9.4">nuclide_doubutsu7</tspan><tspan x="1135.3" dy="9.4">nuclide_doubutsu8</tspan></text></g>

<g id="n-yoyaku_syuukei_kanen" class="p pk"><rect class="b" x="1347" y="58.7" width="125" height="11" rx="4"/><text class="h" x="1350" y="66.9">*yoyaku_syuukei_kanen</text><use href="#mi" x="1464" y="62.2"/></g>
<g id="n-yoyaku_syuukei_kanen1" class="p pk"><rect class="b" x="1347" y="73.2" width="125" height="11" rx="4"/><text class="h" x="1350" y="81.4">*yoyaku_syuukei_kanen1</text><use href="#mi" x="1464" y="76.7"/></g>
<g id="n-yoyaku_syuukei_kanen2" class="p pk"><rect class="b" x="1347" y="87.7" width="125" height="11" rx="4"/><text class="h" x="1350" y="95.9">*yoyaku_syuukei_kanen2</text><use href="#mi" x="1464" y="91.2"/></g>
<g id="n-yoyaku_syuukei_kanen3" class="p pk"><rect class="b" x="1347" y="102.1" width="125" height="11" rx="4"/><text class="h" x="1350" y="110.3">*yoyaku_syuukei_kanen3</text><use href="#mi" x="1464" y="105.6"/></g>
<g id="n-yoyaku_syuukei_kanen4" class="p pk"><rect class="b" x="1347" y="116.6" width="125" height="11" rx="4"/><text class="h" x="1350" y="124.8">*yoyaku_syuukei_kanen4</text><use href="#mi" x="1464" y="120.1"/></g>
<g id="n-yoyaku_syuukei_kanen5" class="p pk"><rect class="b" x="1347" y="131.1" width="125" height="11" rx="4"/><text class="h" x="1350" y="139.3">*yoyaku_syuukei_kanen5</text><use href="#mi" x="1464" y="134.6"/></g>
<g id="n-yoyaku_syuukei_kanen6" class="p pk"><rect class="b" x="1347" y="145.6" width="125" height="11" rx="4"/><text class="h" x="1350" y="153.8">*yoyaku_syuukei_kanen6</text><use href="#mi" x="1464" y="149.1"/></g>
<g id="n-yoyaku_syuukei_kanen7" class="p pk"><rect class="b" x="1347" y="160.1" width="125" height="11" rx="4"/><text class="h" x="1350" y="168.3">*yoyaku_syuukei_kanen7</text><use href="#mi" x="1464" y="163.6"/></g>
<g id="n-yoyaku_syuukei_kanen8" class="p pk"><rect class="b" x="1347" y="174.5" width="125" height="11" rx="4"/><text class="h" x="1350" y="182.7">*yoyaku_syuukei_kanen8</text><use href="#mi" x="1464" y="178"/></g>
<g id="n-yoyaku_syuukei_nannen" class="p pk"><rect class="b" x="1347" y="201.1" width="125" height="11" rx="4"/><text class="h" x="1350" y="209.3">*yoyaku_syuukei_nannen</text><use href="#mi" x="1464" y="204.6"/></g>
<g id="n-yoyaku_syuukei_nannen1" class="p pk"><rect class="b" x="1347" y="214.7" width="125" height="11" rx="4"/><text class="h" x="1350" y="222.9">*yoyaku_syuukei_nannen1</text><use href="#mi" x="1464" y="218.2"/></g>
<g id="n-yoyaku_syuukei_nannen2" class="p pk"><rect class="b" x="1347" y="228.3" width="125" height="11" rx="4"/><text class="h" x="1350" y="236.5">*yoyaku_syuukei_nannen2</text><use href="#mi" x="1464" y="231.8"/></g>
<g id="n-yoyaku_syuukei_nannen3" class="p pk"><rect class="b" x="1347" y="241.9" width="125" height="11" rx="4"/><text class="h" x="1350" y="250.1">*yoyaku_syuukei_nannen3</text><use href="#mi" x="1464" y="245.4"/></g>
<g id="n-yoyaku_syuukei_nannen4" class="p pk"><rect class="b" x="1347" y="255.5" width="125" height="11" rx="4"/><text class="h" x="1350" y="263.7">*yoyaku_syuukei_nannen4</text><use href="#mi" x="1464" y="259"/></g>
<g id="n-yoyaku_syuukei_nannen5" class="p pk"><rect class="b" x="1347" y="269.2" width="125" height="11" rx="4"/><text class="h" x="1350" y="277.4">*yoyaku_syuukei_nannen5</text><use href="#mi" x="1464" y="272.7"/></g>
<g id="n-yoyaku_syuukei_nannen6" class="p pk"><rect class="b" x="1347" y="282.8" width="125" height="11" rx="4"/><text class="h" x="1350" y="291">*yoyaku_syuukei_nannen6</text><use href="#mi" x="1464" y="286.3"/></g>
<g id="n-yoyaku_syuukei_nannen7" class="p pk"><rect class="b" x="1347" y="296.4" width="125" height="11" rx="4"/><text class="h" x="1350" y="304.6">*yoyaku_syuukei_nannen7</text><use href="#mi" x="1464" y="299.9"/></g>
<g id="n-yoyaku_syuukei_nannen8" class="p pk"><rect class="b" x="1347" y="310" width="125" height="11" rx="4"/><text class="h" x="1350" y="318.2">*yoyaku_syuukei_nannen8</text><use href="#mi" x="1464" y="313.5"/></g>
<g id="n-yoyaku_syuukei_funen" class="p pk"><rect class="b" x="1347" y="343.1" width="125" height="11" rx="4"/><text class="h" x="1350" y="351.3">*yoyaku_syuukei_funen</text><use href="#mi" x="1464" y="346.6"/></g>
<g id="n-yoyaku_syuukei_funen1" class="p pk"><rect class="b" x="1347" y="357.1" width="125" height="11" rx="4"/><text class="h" x="1350" y="365.3">*yoyaku_syuukei_funen1</text><use href="#mi" x="1464" y="360.6"/></g>
<g id="n-yoyaku_syuukei_funen2" class="p pk"><rect class="b" x="1347" y="371.1" width="125" height="11" rx="4"/><text class="h" x="1350" y="379.3">*yoyaku_syuukei_funen2</text><use href="#mi" x="1464" y="374.6"/></g>
<g id="n-yoyaku_syuukei_funen3" class="p pk"><rect class="b" x="1347" y="385" width="125" height="11" rx="4"/><text class="h" x="1350" y="393.2">*yoyaku_syuukei_funen3</text><use href="#mi" x="1464" y="388.5"/></g>
<g id="n-yoyaku_syuukei_funen4" class="p pk"><rect class="b" x="1347" y="399" width="125" height="11" rx="4"/><text class="h" x="1350" y="407.2">*yoyaku_syuukei_funen4</text><use href="#mi" x="1464" y="402.5"/></g>
<g id="n-yoyaku_syuukei_funen5" class="p pk"><rect class="b" x="1347" y="413" width="125" height="11" rx="4"/><text class="h" x="1350" y="421.2">*yoyaku_syuukei_funen5</text><use href="#mi" x="1464" y="416.5"/></g>
<g id="n-yoyaku_syuukei_funen6" class="p pk"><rect class="b" x="1347" y="427" width="125" height="11" rx="4"/><text class="h" x="1350" y="435.2">*yoyaku_syuukei_funen6</text><use href="#mi" x="1464" y="430.5"/></g>
<g id="n-yoyaku_syuukei_funen7" class="p pk"><rect class="b" x="1347" y="440.9" width="125" height="11" rx="4"/><text class="h" x="1350" y="449.1">*yoyaku_syuukei_funen7</text><use href="#mi" x="1464" y="444.4"/></g>
<g id="n-yoyaku_syuukei_funen8" class="p pk"><rect class="b" x="1347" y="454.9" width="125" height="11" rx="4"/><text class="h" x="1350" y="463.1">*yoyaku_syuukei_funen8</text><use href="#mi" x="1464" y="458.4"/></g>
<g id="n-yoyaku_syuukei_hiassy0" class="p pk"><rect class="b" x="1347" y="488.9" width="125" height="11" rx="4"/><text class="h" x="1350" y="497.1">*yoyaku_syuukei_hiassyukufu...</text><use href="#mi" x="1464" y="492.4"/></g>
<g id="n-yoyaku_syuukei_hiassy1" class="p pk"><rect class="b" x="1347" y="503.1" width="125" height="11" rx="4"/><text class="h" x="1350" y="511.3">*yoyaku_syuukei_hiassyukufu...</text><use href="#mi" x="1464" y="506.6"/></g>
<g id="n-yoyaku_syuukei_hiassy2" class="p pk"><rect class="b" x="1347" y="517.3" width="125" height="11" rx="4"/><text class="h" x="1350" y="525.5">*yoyaku_syuukei_hiassyukufu...</text><use href="#mi" x="1464" y="520.8"/></g>
<g id="n-yoyaku_syuukei_hiassy3" class="p pk"><rect class="b" x="1347" y="531.4" width="125" height="11" rx="4"/><text class="h" x="1350" y="539.6">*yoyaku_syuukei_hiassyukufu...</text><use href="#mi" x="1464" y="534.9"/></g>
<g id="n-yoyaku_syuukei_hiassy4" class="p pk"><rect class="b" x="1347" y="545.6" width="125" height="11" rx="4"/><text class="h" x="1350" y="553.8">*yoyaku_syuukei_hiassyukufu...</text><use href="#mi" x="1464" y="549.1"/></g>
<g id="n-yoyaku_syuukei_hiassy5" class="p pk"><rect class="b" x="1347" y="559.8" width="125" height="11" rx="4"/><text class="h" x="1350" y="568">*yoyaku_syuukei_hiassyukufu...</text><use href="#mi" x="1464" y="563.3"/></g>
<g id="n-yoyaku_syuukei_hiassy6" class="p pk"><rect class="b" x="1347" y="574" width="125" height="11" rx="4"/><text class="h" x="1350" y="582.2">*yoyaku_syuukei_hiassyukufu...</text><use href="#mi" x="1464" y="577.5"/></g>
<g id="n-yoyaku_syuukei_hiassy7" class="p pk"><rect class="b" x="1347" y="588.1" width="125" height="11" rx="4"/><text class="h" x="1350" y="596.3">*yoyaku_syuukei_hiassyukufu...</text><use href="#mi" x="1464" y="591.6"/></g>
<g id="n-yoyaku_syuukei_hiassy8" class="p pk"><rect class="b" x="1347" y="602.3" width="125" height="11" rx="4"/><text class="h" x="1350" y="610.5">*yoyaku_syuukei_hiassyukufu...</text><use href="#mi" x="1464" y="605.8"/></g>
<g id="n-yoyaku_syuukei_mukiekitai" class="p pk"><rect class="b" x="1347" y="637" width="125" height="11" rx="4"/><text class="h" x="1350" y="645.2">*yoyaku_syuukei_mukiekitai</text><use href="#mi" x="1464" y="640.5"/></g>
<g id="n-yoyaku_syuukei_mukiekitai1" class="p pk"><rect class="b" x="1347" y="652.8" width="125" height="11" rx="4"/><text class="h" x="1350" y="661">*yoyaku_syuukei_mukiekitai1</text><use href="#mi" x="1464" y="656.3"/></g>
<g id="n-yoyaku_syuukei_mukiekitai3" class="p pk"><rect class="b" x="1347" y="668.6" width="125" height="11" rx="4"/><text class="h" x="1350" y="676.8">*yoyaku_syuukei_mukiekitai3</text><use href="#mi" x="1464" y="672.1"/></g>
<g id="n-yoyaku_syuukei_mukiekitai4" class="p pk"><rect class="b" x="1347" y="684.4" width="125" height="11" rx="4"/><text class="h" x="1350" y="692.6">*yoyaku_syuukei_mukiekitai4</text><use href="#mi" x="1464" y="687.9"/></g>
<g id="n-yoyaku_syuukei_mukiekitai5" class="p pk"><rect class="b" x="1347" y="700.2" width="125" height="11" rx="4"/><text class="h" x="1350" y="708.4">*yoyaku_syuukei_mukiekitai5</text><use href="#mi" x="1464" y="703.7"/></g>
<g id="n-yoyaku_syuukei_mukiekitai6" class="p pk"><rect class="b" x="1347" y="716" width="125" height="11" rx="4"/><text class="h" x="1350" y="724.2">*yoyaku_syuukei_mukiekitai6</text><use href="#mi" x="1464" y="719.5"/></g>
<g id="n-yoyaku_syuukei_mukiekitai7" class="p pk"><rect class="b" x="1347" y="731.8" width="125" height="11" rx="4"/><text class="h" x="1350" y="740">*yoyaku_syuukei_mukiekitai7</text><use href="#mi" x="1464" y="735.3"/></g>
<g id="n-yoyaku_syuukei_mukiekitai8" class="p pk"><rect class="b" x="1347" y="747.6" width="125" height="11" rx="4"/><text class="h" x="1350" y="755.8">*yoyaku_syuukei_mukiekitai8</text><use href="#mi" x="1464" y="751.1"/></g>
<g id="n-yoyaku_syuukei_yuukiekitai" class="p pk"><rect class="b" x="1347" y="782.5" width="125" height="11" rx="4"/><text class="h" x="1350" y="790.7">*yoyaku_syuukei_yuukiekitai</text><use href="#mi" x="1464" y="786"/></g>
<g id="n-yoyaku_syuukei_yuukiekitai1" class="p pk"><rect class="b" x="1347" y="796.9" width="125" height="11" rx="4"/><text class="h" x="1350" y="805.1">*yoyaku_syuukei_yuukiekitai1</text><use href="#mi" x="1464" y="800.4"/></g>
<g id="n-yoyaku_syuukei_yuukiekitai2" class="p pk"><rect class="b" x="1347" y="811.2" width="125" height="11" rx="4"/><text class="h" x="1350" y="819.4">*yoyaku_syuukei_yuukiekitai2</text><use href="#mi" x="1464" y="814.7"/></g>
<g id="n-yoyaku_syuukei_yuukiekitai3" class="p pk"><rect class="b" x="1347" y="825.6" width="125" height="11" rx="4"/><text class="h" x="1350" y="833.8">*yoyaku_syuukei_yuukiekitai3</text><use href="#mi" x="1464" y="829.1"/></g>
<g id="n-yoyaku_syuukei_yuukiekitai4" class="p pk"><rect class="b" x="1347" y="840" width="125" height="11" rx="4"/><text class="h" x="1350" y="848.2">*yoyaku_syuukei_yuukiekitai4</text><use href="#mi" x="1464" y="843.5"/></g>
<g id="n-yoyaku_syuukei_yuukiekitai5" class="p pk"><rect class="b" x="1347" y="854.3" width="125" height="11" rx="4"/><text class="h" x="1350" y="862.5">*yoyaku_syuukei_yuukiekitai5</text><use href="#mi" x="1464" y="857.8"/></g>
<g id="n-yoyaku_syuukei_yuukiekitai6" class="p pk"><rect class="b" x="1347" y="868.7" width="125" height="11" rx="4"/><text class="h" x="1350" y="876.9">*yoyaku_syuukei_yuukiekitai6</text><use href="#mi" x="1464" y="872.2"/></g>
<g id="n-yoyaku_syuukei_yuukiekitai7" class="p pk"><rect class="b" x="1347" y="883" width="125" height="11" rx="4"/><text class="h" x="1350" y="891.2">*yoyaku_syuukei_yuukiekitai7</text><use href="#mi" x="1464" y="886.5"/></g>
<g id="n-yoyaku_syuukei_yuukiekitai8" class="p pk"><rect class="b" x="1347" y="897.4" width="125" height="11" rx="4"/><text class="h" x="1350" y="905.6">*yoyaku_syuukei_yuukiekitai8</text><use href="#mi" x="1464" y="900.9"/></g>
<g id="n-yoyaku_syuukei_doubutsu" class="p pk"><rect class="b" x="1347" y="940.2" width="125" height="11" rx="4"/><text class="h" x="1350" y="948.4">*yoyaku_syuukei_doubutsu</text><use href="#mi" x="1464" y="943.7"/></g>
<g id="n-yoyaku_syuukei_doubutsu1" class="p pk"><rect class="b" x="1347" y="955.2" width="125" height="11" rx="4"/><text class="h" x="1350" y="963.4">*yoyaku_syuukei_doubutsu1</text><use href="#mi" x="1464" y="958.7"/></g>
<g id="n-yoyaku_syuukei_doubutsu2" class="p pk"><rect class="b" x="1347" y="970.1" width="125" height="11" rx="4"/><text class="h" x="1350" y="978.3">*yoyaku_syuukei_doubutsu2</text><use href="#mi" x="1464" y="973.6"/></g>
<g id="n-yoyaku_syuukei_doubutsu3" class="p pk"><rect class="b" x="1347" y="985.1" width="125" height="11" rx="4"/><text class="h" x="1350" y="993.3">*yoyaku_syuukei_doubutsu3</text><use href="#mi" x="1464" y="988.6"/></g>
<g id="n-yoyaku_syuukei_doubutsu4" class="p pk"><rect class="b" x="1347" y="1000.1" width="125" height="11" rx="4"/><text class="h" x="1350" y="1008.3">*yoyaku_syuukei_doubutsu4</text><use href="#mi" x="1464" y="1003.6"/></g>
<g id="n-yoyaku_syuukei_doubutsu5" class="p pk"><rect class="b" x="1347" y="1015" width="125" height="11" rx="4"/><text class="h" x="1350" y="1023.2">*yoyaku_syuukei_doubutsu5</text><use href="#mi" x="1464" y="1018.5"/></g>
<g id="n-yoyaku_syuukei_doubutsu6" class="p pk"><rect class="b" x="1347" y="1030" width="125" height="11" rx="4"/><text class="h" x="1350" y="1038.2">*yoyaku_syuukei_doubutsu6</text><use href="#mi" x="1464" y="1033.5"/></g>
<g id="n-yoyaku_syuukei_doubutsu7" class="p pk"><rect class="b" x="1347" y="1045" width="125" height="11" rx="4"/><text class="h" x="1350" y="1053.2">*yoyaku_syuukei_doubutsu7</text><use href="#mi" x="1464" y="1048.5"/></g>
<g id="n-yoyaku_syuukei_doubutsu8" class="p pk"><rect class="b" x="1347" y="1059.8" width="125" height="11" rx="4"/><text class="h" x="1350" y="1068">*yoyaku_syuukei_doubutsu8</text><use href="#mi" x="1464" y="1063.3"/></g>

<g id="n-haiki_2" class="pu"><rect class="b" x="55" y="406.2" width="94" height="26.3" rx="3"/><rect class="w" x="58" y="417.2" width="88" height="11.8"/><text class="h" x="58" y="414.5">*haiki 2</text><use href="#ic" x="141" y="408.7"/><text class="f" x="62" y="425.5">yoyaku_id</text></g>
<g id="n-place_master_3" class="ro"><rect class="b" x="55" y="440.2" width="94" height="26.3" rx="3"/><rect class="w" x="58" y="451.2" width="88" height="11.8"/><text class="h" x="58" y="448.5">*place_master 3</text><use href="#ic" x="141" y="442.7"/><text class="f" x="62" y="459.5">place_id</text></g>
<g id="n-ri_record2" class="rb"><rect class="b" x="55" y="476" width="94" height="26.3" rx="3"/><rect class="w" x="58" y="487" width="88" height="11.8"/><text class="h" x="58" y="484.3">*ri_record2</text><use href="#ic" x="141" y="478.5"/><text class="f" x="62" y="495.3">ri_kanri_id</text></g>
<g id="n-keikakusyo_master" class="lg"><rect class="b" x="55" y="517.2" width="94" height="35.7" rx="3"/><rect class="w" x="58" y="528.2" width="88" height="21.2"/><text class="h" x="58" y="525.5">*keikakusyo_master</text><use href="#ic" x="141" y="519.7"/><text class="f" x="62" y="536.5"><tspan>use_bldg</tspan><tspan x="62" dy="9.4">user_syozoku</tspan></text></g>
<g id="n-yoyaku" class="pk"><rect class="b" x="193" y="443.1" width="69" height="73.3" rx="3"/><rect class="w" x="196" y="454.1" width="63" height="58.8"/><text class="h" x="196" y="451.4">*yoyaku</text><use href="#ic" x="254" y="445.6"/><text class="f" x="200" y="462.4"><tspan>yoyaku_id</tspan><tspan x="200" dy="9.4">place_id</tspan><tspan x="200" dy="9.4">ri_kanri_id</tspan><tspan x="200" dy="9.4">status</tspan><tspan x="200" dy="9.4">seizo_bldg</tspan><tspan x="200" dy="9.4">seizo_user_sy...</tspan></text></g>
<g id="n-user_transaction" class="pw"><rect class="b" x="301" y="437.3" width="75" height="63.9" rx="3"/><rect class="w" x="304" y="448.3" width="69" height="49.4"/><text class="h" x="304" y="445.6">*user_transaction</text><use href="#ic" x="368" y="439.8"/><text class="f" x="308" y="456.6"><tspan>login_name</tspan><tspan x="308" dy="9.4">place_id</tspan><tspan x="308" dy="9.4">nuclide_temp</tspan><tspan x="308" dy="9.4">ri_kanri_id_temp</tspan><tspan x="308" dy="9.4">status_fix</tspan></text></g>
<g id="n-user_master_2" class="bl"><rect class="b" x="429.6" y="399" width="90" height="26.3" rx="3"/><rect class="w" x="432.6" y="410" width="84" height="11.8"/><text class="h" x="432.6" y="407.3">*user_master 2</text><use href="#ic" x="511.6" y="401.5"/><text class="f" x="436.6" y="418.3">login_name</text></g>
<g id="n-place_master" class="ro"><rect class="b" x="429.6" y="432.2" width="90" height="26.3" rx="3"/><rect class="w" x="432.6" y="443.2" width="84" height="11.8"/><text class="h" x="432.6" y="440.5">*place_master</text><use href="#ic" x="511.6" y="434.7"/><text class="f" x="436.6" y="451.5">place_id</text></g>
<g id="n-nuclide_disp_2" class="or"><rect class="b" x="429.6" y="466.7" width="90" height="26.3" rx="3"/><rect class="w" x="432.6" y="477.7" width="84" height="11.8"/><text class="h" x="432.6" y="475">*nuclide_disp 2</text><use href="#ic" x="511.6" y="469.2"/><text class="f" x="436.6" y="486">place_id</text></g>
<g id="n-nuclide_master_2" class="gy"><rect class="b" x="429.6" y="499.8" width="90" height="35.7" rx="3"/><rect class="w" x="432.6" y="510.8" width="84" height="21.2"/><text class="h" x="432.6" y="508.1">*nuclide_master 2</text><use href="#ic" x="511.6" y="502.3"/><text class="f" x="436.6" y="519.1"><tspan>nuclide_name</tspan><tspan x="436.6" dy="9.4">place_id</tspan></text></g>
<g id="n-ri_record3" class="rb"><rect class="b" x="429.6" y="541.6" width="90" height="26.3" rx="3"/><rect class="w" x="432.6" y="552.6" width="84" height="11.8"/><text class="h" x="432.6" y="549.9">*ri_record3</text><use href="#ic" x="511.6" y="544.1"/><text class="f" x="436.6" y="560.9">ri_kanri_id</text></g>
<g id="n-room_master" class="tn"><rect class="b" x="546" y="403.3" width="90" height="26.3" rx="3"/><rect class="w" x="549" y="414.3" width="84" height="11.8"/><text class="h" x="549" y="411.6">*room_master</text><use href="#ic" x="628" y="405.8"/><text class="f" x="553" y="422.6">place_id</text></g>
<g id="n-purpose_method" class="yl"><rect class="b" x="546" y="464.4" width="90" height="26.3" rx="3"/><rect class="w" x="549" y="475.4" width="84" height="11.8"/><text class="h" x="549" y="472.7">*purpose_method_...</text><use href="#ic" x="628" y="466.9"/><text class="f" x="553" y="483.7">place_id</text></g>

<g id="n-box_master" class="bg"><rect class="b" x="689.5" y="425" width="90.5" height="82.7" rx="3"/><rect class="w" x="692.5" y="436" width="84.5" height="68.2"/><text class="h" x="692.5" y="433.3">*box_master</text><use href="#ic" x="772" y="427.5"/><text class="f" x="696.5" y="444.3"><tspan>responsible_person</tspan><tspan x="696.5" dy="9.4">list_title_left1</tspan><tspan x="696.5" dy="9.4">list_title_right1</tspan><tspan x="696.5" dy="9.4">list_title_left2</tspan><tspan x="696.5" dy="9.4">list_title_right2</tspan><tspan x="696.5" dy="9.4">list_title_left3</tspan><tspan x="696.5" dy="9.4">list_title_right3</tspan></text></g>
<g id="n-user_master_for_box" class="bl"><rect class="b" x="838" y="410.5" width="92" height="26.3" rx="3"/><rect class="w" x="841" y="421.5" width="86" height="11.8"/><text class="h" x="841" y="418.8">*user_master_for_box</text><use href="#ic" x="922" y="413"/><text class="f" x="845" y="429.8">name</text></g>
<g id="n-list_title" class="gy"><rect class="b" x="838" y="445.2" width="92" height="26.3" rx="3"/><rect class="w" x="841" y="456.2" width="86" height="11.8"/><text class="h" x="841" y="453.5">*list_title</text><use href="#ic" x="922" y="447.7"/><text class="f" x="845" y="464.5">kind</text></g>
<g id="n-list_title_for1" class="gy"><rect class="b" x="838" y="481" width="92" height="35.7" rx="3"/><rect class="w" x="841" y="492" width="86" height="21.2"/><text class="h" x="841" y="489.3">*list_title_for1</text><use href="#ic" x="922" y="483.5"/><text class="f" x="845" y="500.3"><tspan>kind</tspan><tspan x="845" dy="9.4">seq_no</tspan></text></g>
<g id="n-list_title_for2" class="gy"><rect class="b" x="838" y="523" width="92" height="35.7" rx="3"/><rect class="w" x="841" y="534" width="86" height="21.2"/><text class="h" x="841" y="531.3">*list_title_for2</text><use href="#ic" x="922" y="525.5"/><text class="f" x="845" y="542.3"><tspan>kind</tspan><tspan x="845" dy="9.4">seq_no</tspan></text></g>
<g id="n-list_title_for3" class="gy"><rect class="b" x="838" y="566" width="92" height="35.7" rx="3"/><rect class="w" x="841" y="577" width="86" height="21.2"/><text class="h" x="841" y="574.3">*list_title_for3</text><use href="#ic" x="922" y="568.5"/><text class="f" x="845" y="585.3"><tspan>kind</tspan><tspan x="845" dy="9.4">seq_no</tspan></text></g>
<g id="n-box_master_2" class="bg"><rect class="b" x="689.5" y="608" width="90.5" height="26.3" rx="3"/><rect class="w" x="692.5" y="619" width="84.5" height="11.8"/><text class="h" x="692.5" y="616.3">*box_master 2</text><use href="#ic" x="772" y="610.5"/><text class="f" x="696.5" y="627.3">list_title_left2</text></g>
<g id="n-list_title_2" class="gy"><rect class="b" x="838" y="608" width="92" height="26.3" rx="3"/><rect class="w" x="841" y="619" width="86" height="11.8"/><text class="h" x="841" y="616.3">*list_title 2</text><use href="#ic" x="922" y="610.5"/><text class="f" x="845" y="627.3">kind</text></g>
<g id="n-box_master_3" class="bg"><rect class="b" x="689.5" y="644" width="90.5" height="26.3" rx="3"/><rect class="w" x="692.5" y="655" width="84.5" height="11.8"/><text class="h" x="692.5" y="652.3">*box_master 3</text><use href="#ic" x="772" y="646.5"/><text class="f" x="696.5" y="663.3">list_title_left3</text></g>
<g id="n-list_title_6" class="gy"><rect class="b" x="838" y="644" width="92" height="26.3" rx="3"/><rect class="w" x="841" y="655" width="86" height="11.8"/><text class="h" x="841" y="652.3">*list_title 6</text><use href="#ic" x="922" y="646.5"/><text class="f" x="845" y="663.3">kind</text></g>

<g id="n-haiki_for_nuclide" class="pu"><rect class="b" x="59" y="631" width="76" height="26.3" rx="3"/><rect class="w" x="62" y="642" width="70" height="11.8"/><text class="h" x="62" y="639.3">*haiki_for_nuclide</text><use href="#ic" x="127" y="633.5"/><text class="f" x="66" y="650.3">yoyaku_id</text></g>
<g id="n-yoyaku_for_sum" class="pk"><rect class="b" x="169.4" y="631" width="65.5" height="35.7" rx="3"/><rect class="w" x="172.4" y="642" width="59.5" height="21.2"/><text class="h" x="172.4" y="639.3">*yoyaku_for_...</text><use href="#ic" x="226.9" y="633.5"/><text class="f" x="176.4" y="650.3"><tspan>yoyaku_id</tspan><tspan x="176.4" dy="9.4">sum_key</tspan></text></g>
<g id="n-nuclide_master" class="or"><rect class="b" x="270.6" y="621" width="92" height="45.1" rx="3"/><rect class="w" x="273.6" y="632" width="86" height="30.6"/><text class="h" x="273.6" y="629.3">*nuclide_master</text><use href="#ic" x="354.6" y="623.5"/><text class="f" x="277.6" y="640.3"><tspan>purpose_id</tspan><tspan x="277.6" dy="9.4">place_id</tspan><tspan x="277.6" dy="9.4">sum_key</tspan></text></g>
<g id="n-purpose_master" class="tl"><rect class="b" x="402.6" y="617" width="93" height="26.3" rx="3"/><rect class="w" x="405.6" y="628" width="87" height="11.8"/><text class="h" x="405.6" y="625.3">*purpose_master</text><use href="#ic" x="487.6" y="619.5"/><text class="f" x="409.6" y="636.3">purpose_id</text></g>
<g id="n-place_master_2" class="ro" clip-path="url(#c5)"><rect class="b" x="402.6" y="654" width="93" height="26.3" rx="3"/><rect class="w" x="405.6" y="665" width="87" height="11.8"/><text class="h" x="405.6" y="662.3">*place_master 2</text><use href="#ic" x="487.6" y="656.5"/><text class="f" x="409.6" y="673.3">place_id</text></g>
<g id="n-yoyaku_tmp" class="pk"><rect class="b" x="523" y="634" width="49" height="26.3" rx="3"/><rect class="w" x="526" y="645" width="43" height="11.8"/><text class="h" x="526" y="642.3">*yoyaku...</text><use href="#ic" x="564" y="636.5"/><text class="f" x="530" y="653.3">tmp_ID</text></g>
<g id="n-yoyak_record" class="bl"><rect class="b" x="607" y="634" width="48" height="26.3" rx="3"/><rect class="w" x="610" y="645" width="42" height="11.8"/><text class="h" x="610" y="642.3">*yoyak...</text><use href="#ic" x="647" y="636.5"/><text class="f" x="614" y="653.3">record_id</text></g>

<g id="n-kanen_waste_sum" class="p sa"><rect class="b" x="64" y="730" width="92" height="11" rx="4"/><text class="h" x="67" y="738.2">*kanen_waste_sum</text><use href="#mi" x="148" y="733.5"/></g>
<g id="n-nannen_waste_sum" class="p sa"><rect class="b" x="64" y="752.8" width="92" height="11" rx="4"/><text class="h" x="67" y="761">*nannen_waste_sum</text><use href="#mi" x="148" y="756.3"/></g>
<g id="n-funen_waste_sum" class="p sa"><rect class="b" x="64" y="775.6" width="92" height="11" rx="4"/><text class="h" x="67" y="783.8">*funen_waste_sum</text><use href="#mi" x="148" y="779.1"/></g>
<g id="n-hiassyukufunen_wa" class="p sa"><rect class="b" x="64" y="798.3" width="92" height="11" rx="4"/><text class="h" x="67" y="806.5">*hiassyukufunen_wa...</text><use href="#mi" x="148" y="801.8"/></g>
<g id="n-muki_waste_sum" class="p sa"><rect class="b" x="64" y="821.1" width="92" height="11" rx="4"/><text class="h" x="67" y="829.3">*muki_waste_sum</text><use href="#mi" x="148" y="824.6"/></g>
<g id="n-yuuki_waste_sum" class="p sa"><rect class="b" x="64" y="843.9" width="92" height="11" rx="4"/><text class="h" x="67" y="852.1">*yuuki_waste_sum</text><use href="#mi" x="148" y="847.4"/></g>
<g id="n-doubutsu_waste_sum" class="p sa"><rect class="b" x="64" y="866.7" width="92" height="11" rx="4"/><text class="h" x="67" y="874.9">*doubutsu_waste_sum</text><use href="#mi" x="148" y="870.2"/></g>
<g id="n-haisui_waste_sum" class="p sa"><rect class="b" x="64" y="889.4" width="92" height="11" rx="4"/><text class="h" x="67" y="897.6">*haisui_waste_sum</text><use href="#mi" x="148" y="892.9"/></g>
<g id="n-haigas_waste_sum" class="p sa"><rect class="b" x="64" y="912.2" width="92" height="11" rx="4"/><text class="h" x="67" y="920.4">*haigas_waste_sum</text><use href="#mi" x="148" y="915.7"/></g>
<g id="n-gensui1_waste_sum" class="p sa"><rect class="b" x="64" y="935" width="92" height="11" rx="4"/><text class="h" x="67" y="943.2">*gensui1_waste_sum</text><use href="#mi" x="148" y="938.5"/></g>
<g id="n-gensui2_waste_sum" class="p sa"><rect class="b" x="64" y="957.8" width="92" height="11" rx="4"/><text class="h" x="67" y="966">*gensui2_waste_sum</text><use href="#mi" x="148" y="961.3"/></g>
<g id="n-gensui3_waste_sum" class="p sa"><rect class="b" x="64" y="980.6" width="92" height="11" rx="4"/><text class="h" x="67" y="988.8">*gensui3_waste_sum</text><use href="#mi" x="148" y="984.1"/></g>
<g id="n-gensui4_waste_sum" class="p sa"><rect class="b" x="64" y="1003.4" width="92" height="11" rx="4"/><text class="h" x="67" y="1011.6">*gensui4_waste_sum</text><use href="#mi" x="148" y="1006.9"/></g>
<g id="n-gensui5_waste_sum" class="p sa"><rect class="b" x="64" y="1026.1" width="92" height="11" rx="4"/><text class="h" x="67" y="1034.3">*gensui5_waste_sum</text><use href="#mi" x="148" y="1029.6"/></g>
<g id="n-gensuiPET4_waste" class="p sa"><rect class="b" x="64" y="1048.9" width="92" height="11" rx="4"/><text class="h" x="67" y="1057.1">*gensuiPET4_waste_...</text><use href="#mi" x="148" y="1052.4"/></g>
<g id="n-haraidashi_waste" class="p sa"><rect class="b" x="64" y="1071.7" width="92" height="11" rx="4"/><text class="h" x="67" y="1079.9">*haraidashi_waste_s...</text><use href="#mi" x="148" y="1075.2"/></g>
<g id="n-storegensui_waste" class="p sa"><rect class="b" x="64" y="1094.5" width="92" height="11" rx="4"/><text class="h" x="67" y="1102.7">*storegensui_waste_...</text><use href="#mi" x="148" y="1098"/></g>
<g id="n-kanen_yoyaku" class="p pk"><rect class="b" x="216" y="730" width="91" height="11" rx="4"/><text class="h" x="219" y="738.2">*kanen_yoyaku</text><use href="#mi" x="299" y="733.5"/></g>
<g id="n-nannen_yoyaku" class="p pk"><rect class="b" x="216" y="752.8" width="91" height="11" rx="4"/><text class="h" x="219" y="761">*nannen_yoyaku</text><use href="#mi" x="299" y="756.3"/></g>
<g id="n-funen_yoyaku" class="p pk"><rect class="b" x="216" y="775.6" width="91" height="11" rx="4"/><text class="h" x="219" y="783.8">*funen_yoyaku</text><use href="#mi" x="299" y="779.1"/></g>
<g id="n-hiassyukufunen_yo" class="p pk"><rect class="b" x="216" y="798.3" width="91" height="11" rx="4"/><text class="h" x="219" y="806.5">*hiassyukufunen_yo...</text><use href="#mi" x="299" y="801.8"/></g>
<g id="n-muki_yoyaku" class="p pk"><rect class="b" x="216" y="821.1" width="91" height="11" rx="4"/><text class="h" x="219" y="829.3">*muki_yoyaku</text><use href="#mi" x="299" y="824.6"/></g>
<g id="n-yuuki_yoyaku" class="p pk"><rect class="b" x="216" y="843.9" width="91" height="11" rx="4"/><text class="h" x="219" y="852.1">*yuuki_yoyaku</text><use href="#mi" x="299" y="847.4"/></g>
<g id="n-doubutsu_yoyaku" class="p pk"><rect class="b" x="216" y="866.7" width="91" height="11" rx="4"/><text class="h" x="219" y="874.9">*doubutsu_yoyaku</text><use href="#mi" x="299" y="870.2"/></g>
<g id="n-haisui_yoyaku" class="p pk"><rect class="b" x="216" y="889.4" width="91" height="11" rx="4"/><text class="h" x="219" y="897.6">*haisui_yoyaku</text><use href="#mi" x="299" y="892.9"/></g>
<g id="n-haigas_yoyaku" class="p pk"><rect class="b" x="216" y="912.2" width="91" height="11" rx="4"/><text class="h" x="219" y="920.4">*haigas_yoyaku</text><use href="#mi" x="299" y="915.7"/></g>
<g id="n-gensui1_yoyaku" class="p pk"><rect class="b" x="216" y="935" width="91" height="11" rx="4"/><text class="h" x="219" y="943.2">*gensui1_yoyaku</text><use href="#mi" x="299" y="938.5"/></g>
<g id="n-gensui2_yoyaku" class="p pk"><rect class="b" x="216" y="957.8" width="91" height="11" rx="4"/><text class="h" x="219" y="966">*gensui2_yoyaku</text><use href="#mi" x="299" y="961.3"/></g>
<g id="n-gensui3_yoyaku" class="p pk"><rect class="b" x="216" y="980.6" width="91" height="11" rx="4"/><text class="h" x="219" y="988.8">*gensui3_yoyaku</text><use href="#mi" x="299" y="984.1"/></g>
<g id="n-gensui4_yoyaku" class="p pk"><rect class="b" x="216" y="1003.4" width="91" height="11" rx="4"/><text class="h" x="219" y="1011.6">*gensui4_yoyaku</text><use href="#mi" x="299" y="1006.9"/></g>
<g id="n-gensui5_yoyaku" class="p pk"><rect class="b" x="216" y="1026.1" width="91" height="11" rx="4"/><text class="h" x="219" y="1034.3">*gensui5_yoyaku</text><use href="#mi" x="299" y="1029.6"/></g>
<g id="n-gensuiPET4_yoyaku" class="p pk"><rect class="b" x="216" y="1048.9" width="91" height="11" rx="4"/><text class="h" x="219" y="1057.1">*gensuiPET4_yoyaku</text><use href="#mi" x="299" y="1052.4"/></g>
<g id="n-haraidashi_yoyaku" class="p pk"><rect class="b" x="216" y="1071.7" width="91" height="11" rx="4"/><text class="h" x="219" y="1079.9">*haraidashi_yoyaku</text><use href="#mi" x="299" y="1075.2"/></g>
<g id="n-storegensui_yoyaku" class="p pk"><rect class="b" x="216" y="1094.5" width="91" height="11" rx="4"/><text class="h" x="219" y="1102.7">*storegensui_yoyaku</text><use href="#mi" x="299" y="1098"/></g>

<g id="n-place_master_for_haiki" class="ro"><rect class="b" x="357" y="730.4" width="102" height="26.3" rx="3"/><rect class="w" x="360" y="741.4" width="96" height="11.8"/><text class="h" x="360" y="738.7">*place_master_for_haiki</text><use href="#ic" x="451" y="732.9"/><text class="f" x="364" y="749.7">place_id</text></g>
<g id="n-ri_record_for_haiki" class="rb"><rect class="b" x="365.6" y="766" width="90.4" height="26.3" rx="3"/><rect class="w" x="368.6" y="777" width="84.4" height="11.8"/><text class="h" x="368.6" y="774.3">*ri_record_for_haiki</text><use href="#ic" x="448" y="768.5"/><text class="f" x="372.6" y="785.3">ri_kanri_id</text></g>
<g id="n-user_master_3" class="bl"><rect class="b" x="363" y="809.6" width="91.6" height="26.3" rx="3"/><rect class="w" x="366" y="820.6" width="85.6" height="11.8"/><text class="h" x="366" y="817.9">*user_master 3</text><use href="#ic" x="446.6" y="812.1"/><text class="f" x="370" y="828.9">name</text></g>
<g id="n-yoyaku_for_haiki" class="pk"><rect class="b" x="495.8" y="721.7" width="91.7" height="54.5" rx="3"/><rect class="w" x="498.8" y="732.7" width="85.7" height="40"/><text class="h" x="498.8" y="730">*yoyaku_for_haiki</text><use href="#ic" x="579.5" y="724.2"/><text class="f" x="502.8" y="741"><tspan>yoyaku_id</tspan><tspan x="502.8" dy="9.4">place_id</tspan><tspan x="502.8" dy="9.4">ri_kanri_id</tspan><tspan x="502.8" dy="9.4">tmp_login_user</tspan></text></g>
<g id="n-haiki" class="pu"><rect class="b" x="617.7" y="718.8" width="121.3" height="35.7" rx="3"/><rect class="w" x="620.7" y="729.8" width="115.3" height="21.2"/><text class="h" x="620.7" y="727.1">*haiki</text><use href="#ic" x="731" y="721.3"/><text class="f" x="624.7" y="738.1"><tspan>yoyaku_id</tspan><tspan x="624.7" dy="9.4">kanen_box_no</tspan></text></g>
<g id="n-box_master_for_kanen" class="bk"><rect class="b" x="772" y="726" width="121" height="26.3" rx="3"/><rect class="w" x="775" y="737" width="115" height="11.8"/><text class="h" x="775" y="734.3">*box_master_for_kanen</text><use href="#ic" x="885" y="728.5"/><text class="f" x="779" y="745.3">box_no</text></g>
<g id="n-hosei_today_sum" class="sl"><rect class="b" x="388" y="890" width="92.6" height="45.1" rx="3"/><rect class="w" x="391" y="901" width="86.6" height="30.6"/><text class="h" x="391" y="898.3">*hosei_today_sum</text><use href="#ic" x="472.6" y="892.5"/><text class="f" x="395" y="909.3"><tspan>sum_key</tspan><tspan x="395" dy="9.4">today</tspan><tspan x="395" dy="9.4">hosei_key</tspan></text></g>
<g id="n-hosei_yoyaku_sum" class="p pk"><rect class="b" x="511" y="911.5" width="92.7" height="11" rx="4"/><text class="h" x="514" y="919.7">*hosei_yoyaku_sum</text><use href="#mi" x="595.7" y="915"/></g>
<g id="n-user_transaction_d" class="pw"><rect class="b" x="633.5" y="891.7" width="91.5" height="26.3" rx="3"/><rect class="w" x="636.5" y="902.7" width="85.5" height="11.8"/><text class="h" x="636.5" y="900">*user_transaction_d...</text><use href="#ic" x="717" y="894.2"/><text class="f" x="640.5" y="911">daikou_initial_char</text></g>
<g id="n-user_master_daikou" class="bl"><rect class="b" x="784" y="891.7" width="91.5" height="26.3" rx="3"/><rect class="w" x="787" y="902.7" width="85.5" height="11.8"/><text class="h" x="787" y="900">*user_master_daikou</text><use href="#ic" x="867.5" y="894.2"/><text class="f" x="791" y="911">ini_char</text></g>
<g id="n-user_master_4" class="bl"><rect class="b" x="416.6" y="1022.6" width="92.2" height="26.3" rx="3"/><rect class="w" x="419.6" y="1033.6" width="86.2" height="11.8"/><text class="h" x="419.6" y="1030.9">*user_master 4</text><use href="#ic" x="500.8" y="1025.1"/><text class="f" x="423.6" y="1041.9">login_name</text></g>
<g id="n-user_master_shiyo" class="p bl"><rect class="b" x="416.6" y="1069" width="91" height="11" rx="4"/><text class="h" x="419.6" y="1077.2">*user_master_shiyo...</text><use href="#mi" x="499.6" y="1072.5"/></g>
<g id="n-yoyaku_for_connect" class="pk"><rect class="b" x="558" y="1002.6" width="92.3" height="45.1" rx="3"/><rect class="w" x="561" y="1013.6" width="86.3" height="30.6"/><text class="h" x="561" y="1010.9">*yoyaku_for_connect</text><use href="#ic" x="642.3" y="1005.1"/><text class="f" x="565" y="1021.9"><tspan>place_id</tspan><tspan x="565" dy="9.4">ri_kanri_id</tspan><tspan x="565" dy="9.4">tmp_login_user</tspan></text></g>
<g id="n-place_master_4" class="ro"><rect class="b" x="728.6" y="1004" width="91.6" height="26.3" rx="3"/><rect class="w" x="731.6" y="1015" width="85.6" height="11.8"/><text class="h" x="731.6" y="1012.3">*place_master 4</text><use href="#ic" x="812.2" y="1006.5"/><text class="f" x="735.6" y="1023.3">place_id</text></g>
<g id="n-ri_record_for_conn" class="rb"><rect class="b" x="729.3" y="1051.6" width="91" height="26.3" rx="3"/><rect class="w" x="732.3" y="1062.6" width="85" height="11.8"/><text class="h" x="732.3" y="1059.9">*ri_record_for_conn...</text><use href="#ic" x="812.3" y="1054.1"/><text class="f" x="736.3" y="1070.9">ri_kanri_id</text></g>

<g id="n-yfc_kanen" class="pk"><rect class="b" x="68.3" y="1157.6" width="98" height="45.1" rx="3"/><rect class="w" x="71.3" y="1168.6" width="92" height="30.6"/><text class="h" x="71.3" y="1165.9">*yoyaku_for_connect_...</text><use href="#ic" x="158.3" y="1160.1"/><text class="f" x="75.3" y="1176.9"><tspan>kind_kanen</tspan><tspan x="75.3" dy="9.4">box_status</tspan><tspan x="75.3" dy="9.4">bldg_for_box</tspan></text></g>
<g id="n-yfc_nannen" class="pk"><rect class="b" x="68.3" y="1217.2" width="98" height="45.1" rx="3"/><rect class="w" x="71.3" y="1228.2" width="92" height="30.6"/><text class="h" x="71.3" y="1225.5">*yoyaku_for_connect_...</text><use href="#ic" x="158.3" y="1219.7"/><text class="f" x="75.3" y="1236.5"><tspan>kind_nannen</tspan><tspan x="75.3" dy="9.4">box_status</tspan><tspan x="75.3" dy="9.4">bldg_for_box</tspan></text></g>
<g id="n-yfc_funen" class="pk"><rect class="b" x="68.3" y="1273.4" width="98" height="45.1" rx="3"/><rect class="w" x="71.3" y="1284.4" width="92" height="30.6"/><text class="h" x="71.3" y="1281.7">*yoyaku_for_connect_...</text><use href="#ic" x="158.3" y="1275.9"/><text class="f" x="75.3" y="1292.7"><tspan>kind_funen</tspan><tspan x="75.3" dy="9.4">box_status</tspan><tspan x="75.3" dy="9.4">bldg_for_box</tspan></text></g>
<g id="n-yfc_hiassy" class="pk"><rect class="b" x="68.3" y="1331.6" width="98" height="45.1" rx="3"/><rect class="w" x="71.3" y="1342.6" width="92" height="30.6"/><text class="h" x="71.3" y="1339.9">*yoyaku_for_connect_...</text><use href="#ic" x="158.3" y="1334.1"/><text class="f" x="75.3" y="1350.9"><tspan>kind_hiassyukufunen</tspan><tspan x="75.3" dy="9.4">box_status</tspan><tspan x="75.3" dy="9.4">bldg_for_box</tspan></text></g>
<g id="n-yfc_muki" class="pk"><rect class="b" x="68.3" y="1390" width="98" height="45.1" rx="3"/><rect class="w" x="71.3" y="1401" width="92" height="30.6"/><text class="h" x="71.3" y="1398.3">*yoyaku_for_connect_...</text><use href="#ic" x="158.3" y="1392.5"/><text class="f" x="75.3" y="1409.3"><tspan>kind_muki</tspan><tspan x="75.3" dy="9.4">box_status</tspan><tspan x="75.3" dy="9.4">bldg_for_box</tspan></text></g>
<g id="n-yfc_yuuki" class="pk"><rect class="b" x="68.3" y="1450.6" width="98" height="45.1" rx="3"/><rect class="w" x="71.3" y="1461.6" width="92" height="30.6"/><text class="h" x="71.3" y="1458.9">*yoyaku_for_connect_...</text><use href="#ic" x="158.3" y="1453.1"/><text class="f" x="75.3" y="1469.9"><tspan>kind_yuuki</tspan><tspan x="75.3" dy="9.4">box_status</tspan></text></g>
<g id="n-box_kanen" class="bg"><rect class="b" x="220.4" y="1157.6" width="91.6" height="45.1" rx="3"/><rect class="w" x="223.4" y="1168.6" width="85.6" height="30.6"/><text class="h" x="223.4" y="1165.9">*box_kanen</text><use href="#ic" x="304" y="1160.1"/><text class="f" x="227.4" y="1176.9"><tspan>kind</tspan><tspan x="227.4" dy="9.4">status</tspan><tspan x="227.4" dy="9.4">bldg</tspan></text></g>
<g id="n-box_nannen" class="bg"><rect class="b" x="220.4" y="1217.2" width="91.6" height="45.1" rx="3"/><rect class="w" x="223.4" y="1228.2" width="85.6" height="30.6"/><text class="h" x="223.4" y="1225.5">*box_nannen</text><use href="#ic" x="304" y="1219.7"/><text class="f" x="227.4" y="1236.5"><tspan>kind</tspan><tspan x="227.4" dy="9.4">status</tspan><tspan x="227.4" dy="9.4">bldg</tspan></text></g>
<g id="n-box_funen" class="bg"><rect class="b" x="220.4" y="1273.4" width="91.6" height="45.1" rx="3"/><rect class="w" x="223.4" y="1284.4" width="85.6" height="30.6"/><text class="h" x="223.4" y="1281.7">*box_funen</text><use href="#ic" x="304" y="1275.9"/><text class="f" x="227.4" y="1292.7"><tspan>kind</tspan><tspan x="227.4" dy="9.4">status</tspan><tspan x="227.4" dy="9.4">bldg</tspan></text></g>
<g id="n-box_hiassyukufunen" class="bg"><rect class="b" x="220.4" y="1331.6" width="91.6" height="45.1" rx="3"/><rect class="w" x="223.4" y="1342.6" width="85.6" height="30.6"/><text class="h" x="223.4" y="1339.9">*box_hiassyukufunen</text><use href="#ic" x="304" y="1334.1"/><text class="f" x="227.4" y="1350.9"><tspan>kind</tspan><tspan x="227.4" dy="9.4">status</tspan><tspan x="227.4" dy="9.4">bldg</tspan></text></g>
<g id="n-box_muki" class="bg"><rect class="b" x="220.4" y="1390" width="91.6" height="45.1" rx="3"/><rect class="w" x="223.4" y="1401" width="85.6" height="30.6"/><text class="h" x="223.4" y="1398.3">*box_muki</text><use href="#ic" x="304" y="1392.5"/><text class="f" x="227.4" y="1409.3"><tspan>kind</tspan><tspan x="227.4" dy="9.4">status</tspan><tspan x="227.4" dy="9.4">bldg</tspan></text></g>
<g id="n-box_yuuki" class="bg"><rect class="b" x="220.4" y="1450.6" width="91.6" height="45.1" rx="3"/><rect class="w" x="223.4" y="1461.6" width="85.6" height="30.6"/><text class="h" x="223.4" y="1458.9">*box_yuuki</text><use href="#ic" x="304" y="1453.1"/><text class="f" x="227.4" y="1469.9"><tspan>kind</tspan><tspan x="227.4" dy="9.4">status</tspan></text></g>

<g id="n-report_3month_pre" class="vi"><rect class="b" x="345.4" y="1155.3" width="90.6" height="35.7" rx="3"/><rect class="w" x="348.4" y="1166.3" width="84.6" height="21.2"/><text class="h" x="348.4" y="1163.6">*report_3month_pre</text><use href="#ic" x="428" y="1157.8"/><text class="f" x="352.4" y="1174.6"><tspan>year_quater_id</tspan><tspan x="352.4" dy="9.4">nuclide</tspan></text></g>
<g id="n-report_3month" class="sk"><rect class="b" x="478" y="1179.8" width="83.3" height="54.5" rx="3"/><rect class="w" x="481" y="1190.8" width="77.3" height="40"/><text class="h" x="481" y="1188.1">*report_3month</text><use href="#ic" x="553.3" y="1182.3"/><text class="f" x="485" y="1199.1"><tspan>pre_year_quater_id</tspan><tspan x="485" dy="9.4">start_date</tspan><tspan x="485" dy="9.4">end_date</tspan><tspan x="485" dy="9.4">nuclide</tspan></text></g>
<g id="n-ri_record_3report_1s" class="rb"><rect class="b" x="345.4" y="1244.6" width="94.6" height="35.7" rx="3"/><rect class="w" x="348.4" y="1255.6" width="88.6" height="21.2"/><text class="h" x="348.4" y="1252.9">*ri_record_3report_1s...</text><use href="#ic" x="432" y="1247.1"/><text class="f" x="352.4" y="1263.9"><tspan>nuclide</tspan><tspan x="352.4" dy="9.4">store_period_s</tspan></text></g>
<g id="n-ri_record_3report_u" class="rb"><rect class="b" x="346.8" y="1297.9" width="94.2" height="35.7" rx="3"/><rect class="w" x="349.8" y="1308.9" width="88.2" height="21.2"/><text class="h" x="349.8" y="1306.2">*ri_record_3report_u...</text><use href="#ic" x="433" y="1300.4"/><text class="f" x="353.8" y="1317.2"><tspan>nuclide</tspan><tspan x="353.8" dy="9.4">store_period_s</tspan></text></g>
<g id="n-y3r_haraidashi" class="p pk"><rect class="b" x="605" y="1146.4" width="116.4" height="11" rx="4"/><text class="h" x="608" y="1154.6">*yoyaku_3report_haraidashi</text><use href="#mi" x="713.4" y="1149.9"/></g>
<g id="n-y3r_haiki_kan" class="p pk"><rect class="b" x="605" y="1163.9" width="116.4" height="11" rx="4"/><text class="h" x="608" y="1172.1">*yoyaku_3report_haiki_kan...</text><use href="#mi" x="713.4" y="1167.4"/></g>
<g id="n-y3r_haiki_nan" class="p pk"><rect class="b" x="605" y="1181.4" width="116.4" height="11" rx="4"/><text class="h" x="608" y="1189.6">*yoyaku_3report_haiki_nan...</text><use href="#mi" x="713.4" y="1184.9"/></g>
<g id="n-y3r_haiki_hias" class="p pk"><rect class="b" x="605" y="1198.9" width="116.4" height="11" rx="4"/><text class="h" x="608" y="1207.1">*yoyaku_3report_haiki_hias...</text><use href="#mi" x="713.4" y="1202.4"/></g>
<g id="n-y3r_haiki_funen" class="p pk"><rect class="b" x="605" y="1216.4" width="116.4" height="11" rx="4"/><text class="h" x="608" y="1224.6">*yoyaku_3report_haiki_funen</text><use href="#mi" x="713.4" y="1219.9"/></g>
<g id="n-y3r_haiki_mu" class="p pk"><rect class="b" x="605" y="1233.9" width="116.4" height="11" rx="4"/><text class="h" x="608" y="1242.1">*yoyaku_3report_haiki_mu...</text><use href="#mi" x="713.4" y="1237.4"/></g>
<g id="n-y3r_haiki_yuu" class="p pk"><rect class="b" x="605" y="1251.4" width="116.4" height="11" rx="4"/><text class="h" x="608" y="1259.6">*yoyaku_3report_haiki_yuu...</text><use href="#mi" x="713.4" y="1254.9"/></g>
<g id="n-y3r_haiki_dou" class="p pk"><rect class="b" x="605" y="1268.9" width="116.4" height="11" rx="4"/><text class="h" x="608" y="1277.1">*yoyaku_3report_haiki_dou...</text><use href="#mi" x="713.4" y="1272.4"/></g>
<g id="n-y3r_haiki_haisui" class="p pk"><rect class="b" x="605" y="1286.4" width="116.4" height="11" rx="4"/><text class="h" x="608" y="1294.6">*yoyaku_3report_haiki_haisui</text><use href="#mi" x="713.4" y="1289.9"/></g>
<g id="n-y3r_haiki_hai" class="p pk"><rect class="b" x="605" y="1303.9" width="116.4" height="11" rx="4"/><text class="h" x="608" y="1312.1">*yoyaku_3report_haiki_hai...</text><use href="#mi" x="713.4" y="1307.4"/></g>
<g id="n-y3r_gensui1" class="p pk"><rect class="b" x="605" y="1321.4" width="116.4" height="11" rx="4"/><text class="h" x="608" y="1329.6">*yoyaku_3report_gensui1</text><use href="#mi" x="713.4" y="1324.9"/></g>
<g id="n-y3r_gensui2" class="p pk"><rect class="b" x="605" y="1338.9" width="116.4" height="11" rx="4"/><text class="h" x="608" y="1347.1">*yoyaku_3report_gensui2</text><use href="#mi" x="713.4" y="1342.4"/></g>
<g id="n-y3r_gensui3" class="p pk"><rect class="b" x="605" y="1356.4" width="116.4" height="11" rx="4"/><text class="h" x="608" y="1364.6">*yoyaku_3report_gensui3</text><use href="#mi" x="713.4" y="1359.9"/></g>
<g id="n-y3r_gensui4" class="p pk"><rect class="b" x="605" y="1373.9" width="116.4" height="11" rx="4"/><text class="h" x="608" y="1382.1">*yoyaku_3report_gensui4</text><use href="#mi" x="713.4" y="1377.4"/></g>
<g id="n-y3r_gensui5" class="p pk"><rect class="b" x="605" y="1391.4" width="116.4" height="11" rx="4"/><text class="h" x="608" y="1399.6">*yoyaku_3report_gensui5</text><use href="#mi" x="713.4" y="1394.9"/></g>
<g id="n-y3r_gensuiPET4" class="p pk"><rect class="b" x="605" y="1408.9" width="116.4" height="11" rx="4"/><text class="h" x="608" y="1417.1">*yoyaku_3report_gensuiPET4</text><use href="#mi" x="713.4" y="1412.4"/></g>
<g id="n-y3r_gensuistore" class="p pk"><rect class="b" x="605" y="1426.4" width="116.4" height="11" rx="4"/><text class="h" x="608" y="1434.6">*yoyaku_3report_gensuistore</text><use href="#mi" x="713.4" y="1429.9"/></g>

<g id="n-report_1year_pre" class="ol"><rect class="b" x="746.6" y="1206.6" width="74.2" height="96.9" rx="3"/><rect class="w" x="749.6" y="1217.6" width="68.2" height="21.7"/><rect class="w" x="749.6" y="1242.3" width="68.2" height="57.7"/><text class="h" x="749.6" y="1214.9">*report_1year_...</text><use href="#ic" x="812.8" y="1209.1"/><text class="f" x="753.6" y="1225.9"><tspan>year</tspan><tspan x="753.6" dy="9.4">nuclide</tspan></text><text class="f" x="753.6" y="1251.1"><tspan class="i">year</tspan><tspan x="753.6" dy="9.35">start_date</tspan><tspan x="753.6" dy="9.35">end_date</tspan><tspan x="753.6" dy="9.35" class="i">nuclide</tspan><tspan x="753.6" dy="9.35">kisyu_zaiko</tspan><tspan x="753.6" dy="9.35">kimatsu_zaiko</tspan></text></g>
<g id="n-ri_record_1rep" class="rb"><rect class="b" x="748" y="1357" width="72.8" height="35.7" rx="3"/><rect class="w" x="751" y="1368" width="66.8" height="21.2"/><text class="h" x="751" y="1365.3">*ri_record_1rep...</text><use href="#ic" x="812.8" y="1359.5"/><text class="f" x="755" y="1376.3"><tspan>nuclide</tspan><tspan x="755" dy="9.4">store_period_s</tspan></text></g>
<g id="n-report_1year" class="sl"><rect class="b" x="854.8" y="1257.6" width="89.6" height="114.5" rx="3"/><rect class="w" x="857.8" y="1268.6" width="83.6" height="40.4"/><rect class="w" x="857.8" y="1311.5" width="83.6" height="57.6"/><text class="h" x="857.8" y="1265.9">*report_1year</text><use href="#ic" x="936.4" y="1260.1"/><text class="f" x="861.8" y="1276.9"><tspan>start_date</tspan><tspan x="861.8" dy="9.4">end_date</tspan><tspan x="861.8" dy="9.4">nuclide</tspan><tspan x="861.8" dy="9.4">pre_year</tspan></text><text class="f" x="861.8" y="1320.3"><tspan>year</tspan><tspan x="861.8" dy="9.2" class="i">start_date</tspan><tspan x="861.8" dy="9.2" class="i">end_date</tspan><tspan x="861.8" dy="9.2" class="i">nuclide</tspan><tspan x="861.8" dy="9.2">kisyu_zaiko</tspan><tspan x="861.8" dy="9.2">kimatsu_zaiko</tspan></text></g>
<g id="n-y1r_01" class="p pk"><rect class="b" x="992" y="1142.5" width="90.8" height="11" rx="4"/><text class="h" x="995" y="1150.7">*yoyaku_1report_ha...</text><use href="#mi" x="1074.8" y="1146"/></g>
<g id="n-y1r_02" class="p pk"><rect class="b" x="992" y="1161.3" width="90.8" height="11" rx="4"/><text class="h" x="995" y="1169.5">*yoyaku_1report_ha...</text><use href="#mi" x="1074.8" y="1164.8"/></g>
<g id="n-y1r_03" class="p pk"><rect class="b" x="992" y="1180.1" width="90.8" height="11" rx="4"/><text class="h" x="995" y="1188.3">*yoyaku_1report_ha...</text><use href="#mi" x="1074.8" y="1183.6"/></g>
<g id="n-y1r_04" class="p pk"><rect class="b" x="992" y="1198.8" width="90.8" height="11" rx="4"/><text class="h" x="995" y="1207">*yoyaku_1report_ha...</text><use href="#mi" x="1074.8" y="1202.3"/></g>
<g id="n-y1r_05" class="p pk"><rect class="b" x="992" y="1217.6" width="90.8" height="11" rx="4"/><text class="h" x="995" y="1225.8">*yoyaku_1report_ha...</text><use href="#mi" x="1074.8" y="1221.1"/></g>
<g id="n-y1r_06" class="p pk"><rect class="b" x="992" y="1236.4" width="90.8" height="11" rx="4"/><text class="h" x="995" y="1244.6">*yoyaku_1report_ha...</text><use href="#mi" x="1074.8" y="1239.9"/></g>
<g id="n-y1r_07" class="p pk"><rect class="b" x="992" y="1255.2" width="90.8" height="11" rx="4"/><text class="h" x="995" y="1263.4">*yoyaku_1report_ha...</text><use href="#mi" x="1074.8" y="1258.7"/></g>
<g id="n-y1r_08" class="p pk"><rect class="b" x="992" y="1274" width="90.8" height="11" rx="4"/><text class="h" x="995" y="1282.2">*yoyaku_1report_ha...</text><use href="#mi" x="1074.8" y="1277.5"/></g>
<g id="n-y1r_09" class="p pk"><rect class="b" x="992" y="1292.7" width="90.8" height="11" rx="4"/><text class="h" x="995" y="1300.9">*yoyaku_1report_ha...</text><use href="#mi" x="1074.8" y="1296.2"/></g>
<g id="n-y1r_10" class="p pk"><rect class="b" x="992" y="1311.5" width="90.8" height="11" rx="4"/><text class="h" x="995" y="1319.7">*yoyaku_1report_ha...</text><use href="#mi" x="1074.8" y="1315"/></g>
<g id="n-y1r_11" class="p pk"><rect class="b" x="992" y="1330.3" width="90.8" height="11" rx="4"/><text class="h" x="995" y="1338.5">*yoyaku_1report_ge...</text><use href="#mi" x="1074.8" y="1333.8"/></g>
<g id="n-y1r_12" class="p pk"><rect class="b" x="992" y="1349.1" width="90.8" height="11" rx="4"/><text class="h" x="995" y="1357.3">*yoyaku_1report_ge...</text><use href="#mi" x="1074.8" y="1352.6"/></g>
<g id="n-y1r_13" class="p pk"><rect class="b" x="992" y="1367.9" width="90.8" height="11" rx="4"/><text class="h" x="995" y="1376.1">*yoyaku_1report_ge...</text><use href="#mi" x="1074.8" y="1371.4"/></g>
<g id="n-y1r_14" class="p pk"><rect class="b" x="992" y="1386.6" width="90.8" height="11" rx="4"/><text class="h" x="995" y="1394.8">*yoyaku_1report_ge...</text><use href="#mi" x="1074.8" y="1390.1"/></g>
<g id="n-y1r_15" class="p pk"><rect class="b" x="992" y="1405.4" width="90.8" height="11" rx="4"/><text class="h" x="995" y="1413.6">*yoyaku_1report_ge...</text><use href="#mi" x="1074.8" y="1408.9"/></g>
<g id="n-y1r_16" class="p pk"><rect class="b" x="992" y="1424.2" width="90.8" height="11" rx="4"/><text class="h" x="995" y="1432.4">*yoyaku_1report_ge...</text><use href="#mi" x="1074.8" y="1427.7"/></g>
<g id="n-y1r_17" class="p pk"><rect class="b" x="992" y="1443" width="90.8" height="11" rx="4"/><text class="h" x="995" y="1451.2">*yoyaku_1report_ge...</text><use href="#mi" x="1074.8" y="1446.5"/></g>

<g id="n-report_monthly_rireki" class="sl"><rect class="b" x="1118" y="1158.2" width="91.3" height="169.8" rx="3"/><rect class="w" x="1121" y="1169.2" width="85.3" height="21.7"/><rect class="w" x="1121" y="1193.5" width="85.3" height="131"/><text class="h" x="1121" y="1166.5">*report_monthly_rireki</text><use href="#ic" x="1201.3" y="1160.7"/><text class="f" x="1125" y="1177.5"><tspan>nendo_month_id</tspan><tspan x="1125" dy="9.4">nuclide</tspan></text><text class="f" x="1125" y="1201.3"><tspan>nendo</tspan><tspan x="1125" dy="9.2">month</tspan><tspan x="1125" dy="9.2" class="i">nendo_month_id</tspan><tspan x="1125" dy="9.2">start_date</tspan><tspan x="1125" dy="9.2">end_date</tspan><tspan x="1125" dy="9.2" class="i">nuclide</tspan><tspan x="1125" dy="9.2">kisyu_zaiko</tspan><tspan x="1125" dy="9.2">kimatsu_zaiko</tspan><tspan x="1125" dy="9.2">haraidashi_amount</tspan><tspan x="1125" dy="9.2">haiki_kanen_amount</tspan><tspan x="1125" dy="9.2">haiki_nannen_amount</tspan><tspan x="1125" dy="9.2">haiki_funen_amount</tspan><tspan x="1125" dy="9.2">haiki_hiassyukufunen...</tspan><tspan x="1125" dy="9.2">haiki_mukiekitai_amo...</tspan></text></g>
<g id="n-ri_record_monthly_1" class="rb"><rect class="b" x="1118" y="1362.7" width="91.3" height="35.7" rx="3"/><rect class="w" x="1121" y="1373.7" width="85.3" height="21.2"/><text class="h" x="1121" y="1371">*ri_record_monthly_...</text><use href="#ic" x="1201.3" y="1365.2"/><text class="f" x="1125" y="1382"><tspan>nuclide</tspan><tspan x="1125" dy="9.4">store_period_s</tspan></text></g>
<g id="n-ri_record_monthly_2" class="rb"><rect class="b" x="1118" y="1428.4" width="91.3" height="35.7" rx="3"/><rect class="w" x="1121" y="1439.4" width="85.3" height="21.2"/><text class="h" x="1121" y="1436.7">*ri_record_monthly_...</text><use href="#ic" x="1201.3" y="1430.9"/><text class="f" x="1125" y="1447.7"><tspan>nuclide</tspan><tspan x="1125" dy="9.4">store_period_s</tspan></text></g>
<g id="n-report_monthly" class="pm"><rect class="b" x="1243.2" y="1276.3" width="90.8" height="54.5" rx="3"/><rect class="w" x="1246.2" y="1287.3" width="84.8" height="40"/><text class="h" x="1246.2" y="1284.6">*report_monthly</text><use href="#ic" x="1326" y="1278.8"/><text class="f" x="1250.2" y="1295.6"><tspan>pre_nendo_month_id</tspan><tspan x="1250.2" dy="9.4">start_date</tspan><tspan x="1250.2" dy="9.4">end_date</tspan><tspan x="1250.2" dy="9.4">nuclide</tspan></text></g>
<g id="n-ymr_01" class="p pk"><rect class="b" x="1433.7" y="1157.9" width="108" height="11" rx="4"/><text class="h" x="1436.7" y="1166.1">*yoyaku_monthly_report...</text><use href="#mi" x="1533.7" y="1161.4"/></g>
<g id="n-ymr_02" class="p pk"><rect class="b" x="1433.7" y="1178.4" width="108" height="11" rx="4"/><text class="h" x="1436.7" y="1186.6">*yoyaku_monthly_report...</text><use href="#mi" x="1533.7" y="1181.9"/></g>
<g id="n-ymr_03" class="p pk"><rect class="b" x="1433.7" y="1199" width="108" height="11" rx="4"/><text class="h" x="1436.7" y="1207.2">*yoyaku_monthly_report...</text><use href="#mi" x="1533.7" y="1202.5"/></g>
<g id="n-ymr_04" class="p pk"><rect class="b" x="1433.7" y="1219.5" width="108" height="11" rx="4"/><text class="h" x="1436.7" y="1227.7">*yoyaku_monthly_report...</text><use href="#mi" x="1533.7" y="1223"/></g>
<g id="n-ymr_05" class="p pk"><rect class="b" x="1433.7" y="1240" width="108" height="11" rx="4"/><text class="h" x="1436.7" y="1248.2">*yoyaku_monthly_report...</text><use href="#mi" x="1533.7" y="1243.5"/></g>
<g id="n-ymr_06" class="p pk"><rect class="b" x="1433.7" y="1260.6" width="108" height="11" rx="4"/><text class="h" x="1436.7" y="1268.8">*yoyaku_monthly_report...</text><use href="#mi" x="1533.7" y="1264.1"/></g>
<g id="n-ymr_07" class="p pk"><rect class="b" x="1433.7" y="1281.1" width="108" height="11" rx="4"/><text class="h" x="1436.7" y="1289.3">*yoyaku_monthly_report...</text><use href="#mi" x="1533.7" y="1284.6"/></g>
<g id="n-ymr_08" class="p pk"><rect class="b" x="1433.7" y="1301.6" width="108" height="11" rx="4"/><text class="h" x="1436.7" y="1309.8">*yoyaku_monthly_report...</text><use href="#mi" x="1533.7" y="1305.1"/></g>
<g id="n-ymr_09" class="p pk"><rect class="b" x="1433.7" y="1322.1" width="108" height="11" rx="4"/><text class="h" x="1436.7" y="1330.3">*yoyaku_monthly_report...</text><use href="#mi" x="1533.7" y="1325.6"/></g>
<g id="n-ymr_10" class="p pk"><rect class="b" x="1433.7" y="1342.7" width="108" height="11" rx="4"/><text class="h" x="1436.7" y="1350.9">*yoyaku_monthly_report...</text><use href="#mi" x="1533.7" y="1346.2"/></g>
<g id="n-ymr_11" class="p pk"><rect class="b" x="1433.7" y="1363.2" width="108" height="11" rx="4"/><text class="h" x="1436.7" y="1371.4">*yoyaku_monthly_report...</text><use href="#mi" x="1533.7" y="1366.7"/></g>
<g id="n-ymr_12" class="p pk"><rect class="b" x="1433.7" y="1383.7" width="108" height="11" rx="4"/><text class="h" x="1436.7" y="1391.9">*yoyaku_monthly_report...</text><use href="#mi" x="1533.7" y="1387.2"/></g>
<g id="n-ymr_13" class="p pk"><rect class="b" x="1433.7" y="1404.3" width="108" height="11" rx="4"/><text class="h" x="1436.7" y="1412.5">*yoyaku_monthly_report...</text><use href="#mi" x="1533.7" y="1407.8"/></g>
<g id="n-ymr_14" class="p pk"><rect class="b" x="1433.7" y="1424.8" width="108" height="11" rx="4"/><text class="h" x="1436.7" y="1433">*yoyaku_monthly_report...</text><use href="#mi" x="1533.7" y="1428.3"/></g>
<g id="n-ymr_15" class="p pk"><rect class="b" x="1433.7" y="1445.3" width="108" height="11" rx="4"/><text class="h" x="1436.7" y="1453.5">*yoyaku_monthly_report...</text><use href="#mi" x="1533.7" y="1448.8"/></g>
<g id="n-ymr_16" class="p pk"><rect class="b" x="1433.7" y="1465.8" width="108" height="11" rx="4"/><text class="h" x="1436.7" y="1474">*yoyaku_monthly_report...</text><use href="#mi" x="1533.7" y="1469.3"/></g>
</g>
</g>
<rect x="33" y="10" width="1512" height="1464" fill="none" stroke="#8a8a8a" stroke-width="1.4"/>
<text x="308" y="1522" font-size="41" fill="#1d5d1d" textLength="942" lengthAdjust="spacingAndGlyphs" style="font-family:'Noto Sans CJK JP',sans-serif;font-weight:300">図1：メインDBリレーションシップグラフ（抜粋）</text>
</g>
</svg>
